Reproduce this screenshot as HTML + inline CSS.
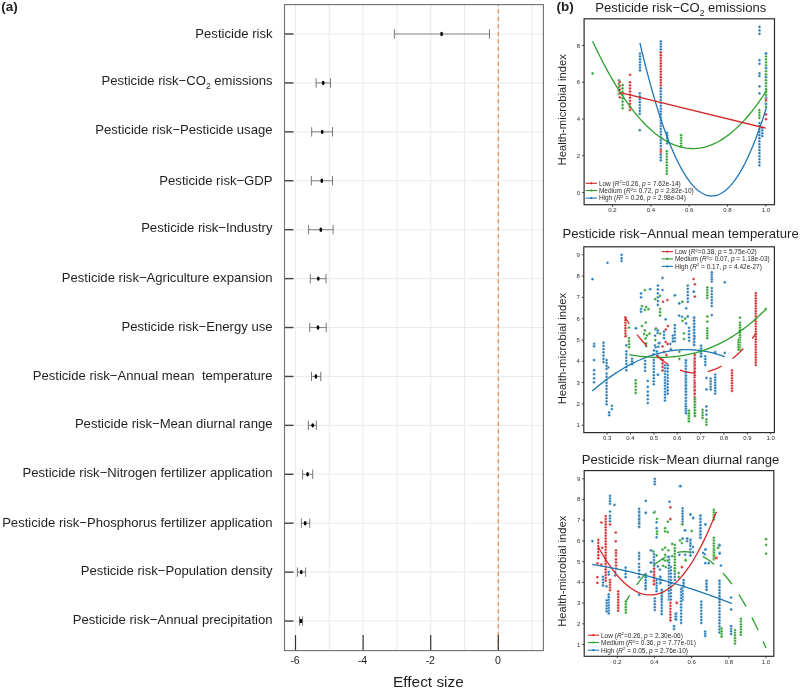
<!DOCTYPE html>
<html><head><meta charset="utf-8"><title>Figure</title>
<style>
html,body{margin:0;padding:0;background:#fff;}
body{width:800px;height:693px;overflow:hidden;}
svg{display:block;font-family:"Liberation Sans", Arial, Helvetica, sans-serif;}
</style></head><body>
<svg width="800" height="693" viewBox="0 0 800 693">
<rect width="800" height="693" fill="#fff"/>
<line x1="295.50" y1="4.6" x2="295.50" y2="650.6" stroke="#ebebeb" stroke-width="1.1"/>
<line x1="329.30" y1="4.6" x2="329.30" y2="650.6" stroke="#ebebeb" stroke-width="1.1"/>
<line x1="363.10" y1="4.6" x2="363.10" y2="650.6" stroke="#ebebeb" stroke-width="1.1"/>
<line x1="396.90" y1="4.6" x2="396.90" y2="650.6" stroke="#ebebeb" stroke-width="1.1"/>
<line x1="430.70" y1="4.6" x2="430.70" y2="650.6" stroke="#ebebeb" stroke-width="1.1"/>
<line x1="464.50" y1="4.6" x2="464.50" y2="650.6" stroke="#ebebeb" stroke-width="1.1"/>
<line x1="498.30" y1="4.6" x2="498.30" y2="650.6" stroke="#ebebeb" stroke-width="1.1"/>
<line x1="532.10" y1="4.6" x2="532.10" y2="650.6" stroke="#ebebeb" stroke-width="1.1"/>
<line x1="284.5" y1="34.00" x2="543.4" y2="34.00" stroke="#ebebeb" stroke-width="1.1"/>
<line x1="284.5" y1="82.92" x2="543.4" y2="82.92" stroke="#ebebeb" stroke-width="1.1"/>
<line x1="284.5" y1="131.84" x2="543.4" y2="131.84" stroke="#ebebeb" stroke-width="1.1"/>
<line x1="284.5" y1="180.76" x2="543.4" y2="180.76" stroke="#ebebeb" stroke-width="1.1"/>
<line x1="284.5" y1="229.68" x2="543.4" y2="229.68" stroke="#ebebeb" stroke-width="1.1"/>
<line x1="284.5" y1="278.60" x2="543.4" y2="278.60" stroke="#ebebeb" stroke-width="1.1"/>
<line x1="284.5" y1="327.52" x2="543.4" y2="327.52" stroke="#ebebeb" stroke-width="1.1"/>
<line x1="284.5" y1="376.44" x2="543.4" y2="376.44" stroke="#ebebeb" stroke-width="1.1"/>
<line x1="284.5" y1="425.36" x2="543.4" y2="425.36" stroke="#ebebeb" stroke-width="1.1"/>
<line x1="284.5" y1="474.28" x2="543.4" y2="474.28" stroke="#ebebeb" stroke-width="1.1"/>
<line x1="284.5" y1="523.20" x2="543.4" y2="523.20" stroke="#ebebeb" stroke-width="1.1"/>
<line x1="284.5" y1="572.12" x2="543.4" y2="572.12" stroke="#ebebeb" stroke-width="1.1"/>
<line x1="284.5" y1="621.04" x2="543.4" y2="621.04" stroke="#ebebeb" stroke-width="1.1"/>
<line x1="498.3" y1="4.6" x2="498.3" y2="650.6" stroke="#ee8236" stroke-width="1.15" stroke-dasharray="4.3 3.2" stroke-dashoffset="2.9"/>
<line x1="394.4" y1="34.00" x2="489.5" y2="34.00" stroke="#8a8a8a" stroke-width="1.1"/>
<line x1="394.4" y1="29.30" x2="394.4" y2="38.70" stroke="#777" stroke-width="1"/>
<line x1="489.5" y1="29.30" x2="489.5" y2="38.70" stroke="#777" stroke-width="1"/>
<ellipse cx="441.6" cy="34.00" rx="1.35" ry="2.2" fill="#000"/>
<line x1="316.1" y1="82.92" x2="330.5" y2="82.92" stroke="#8a8a8a" stroke-width="1.1"/>
<line x1="316.1" y1="78.22" x2="316.1" y2="87.62" stroke="#777" stroke-width="1"/>
<line x1="330.5" y1="78.22" x2="330.5" y2="87.62" stroke="#777" stroke-width="1"/>
<ellipse cx="323.2" cy="82.92" rx="1.35" ry="2.2" fill="#000"/>
<line x1="311.7" y1="131.84" x2="332.5" y2="131.84" stroke="#8a8a8a" stroke-width="1.1"/>
<line x1="311.7" y1="127.14" x2="311.7" y2="136.54" stroke="#777" stroke-width="1"/>
<line x1="332.5" y1="127.14" x2="332.5" y2="136.54" stroke="#777" stroke-width="1"/>
<ellipse cx="322.2" cy="131.84" rx="1.35" ry="2.2" fill="#000"/>
<line x1="311.3" y1="180.76" x2="332.5" y2="180.76" stroke="#8a8a8a" stroke-width="1.1"/>
<line x1="311.3" y1="176.06" x2="311.3" y2="185.46" stroke="#777" stroke-width="1"/>
<line x1="332.5" y1="176.06" x2="332.5" y2="185.46" stroke="#777" stroke-width="1"/>
<ellipse cx="321.8" cy="180.76" rx="1.35" ry="2.2" fill="#000"/>
<line x1="308.6" y1="229.68" x2="333.1" y2="229.68" stroke="#8a8a8a" stroke-width="1.1"/>
<line x1="308.6" y1="224.98" x2="308.6" y2="234.38" stroke="#777" stroke-width="1"/>
<line x1="333.1" y1="224.98" x2="333.1" y2="234.38" stroke="#777" stroke-width="1"/>
<ellipse cx="320.8" cy="229.68" rx="1.35" ry="2.2" fill="#000"/>
<line x1="310.3" y1="278.60" x2="326.0" y2="278.60" stroke="#8a8a8a" stroke-width="1.1"/>
<line x1="310.3" y1="273.90" x2="310.3" y2="283.30" stroke="#777" stroke-width="1"/>
<line x1="326.0" y1="273.90" x2="326.0" y2="283.30" stroke="#777" stroke-width="1"/>
<ellipse cx="318.3" cy="278.60" rx="1.35" ry="2.2" fill="#000"/>
<line x1="309.7" y1="327.52" x2="326.2" y2="327.52" stroke="#8a8a8a" stroke-width="1.1"/>
<line x1="309.7" y1="322.82" x2="309.7" y2="332.22" stroke="#777" stroke-width="1"/>
<line x1="326.2" y1="322.82" x2="326.2" y2="332.22" stroke="#777" stroke-width="1"/>
<ellipse cx="318.0" cy="327.52" rx="1.35" ry="2.2" fill="#000"/>
<line x1="311.5" y1="376.44" x2="320.8" y2="376.44" stroke="#8a8a8a" stroke-width="1.1"/>
<line x1="311.5" y1="371.74" x2="311.5" y2="381.14" stroke="#777" stroke-width="1"/>
<line x1="320.8" y1="371.74" x2="320.8" y2="381.14" stroke="#777" stroke-width="1"/>
<ellipse cx="315.9" cy="376.44" rx="1.35" ry="2.2" fill="#000"/>
<line x1="308.4" y1="425.36" x2="316.3" y2="425.36" stroke="#8a8a8a" stroke-width="1.1"/>
<line x1="308.4" y1="420.66" x2="308.4" y2="430.06" stroke="#777" stroke-width="1"/>
<line x1="316.3" y1="420.66" x2="316.3" y2="430.06" stroke="#777" stroke-width="1"/>
<ellipse cx="312.7" cy="425.36" rx="1.35" ry="2.2" fill="#000"/>
<line x1="302.6" y1="474.28" x2="312.7" y2="474.28" stroke="#8a8a8a" stroke-width="1.1"/>
<line x1="302.6" y1="469.58" x2="302.6" y2="478.98" stroke="#777" stroke-width="1"/>
<line x1="312.7" y1="469.58" x2="312.7" y2="478.98" stroke="#777" stroke-width="1"/>
<ellipse cx="307.6" cy="474.28" rx="1.35" ry="2.2" fill="#000"/>
<line x1="301.4" y1="523.20" x2="309.7" y2="523.20" stroke="#8a8a8a" stroke-width="1.1"/>
<line x1="301.4" y1="518.50" x2="301.4" y2="527.90" stroke="#777" stroke-width="1"/>
<line x1="309.7" y1="518.50" x2="309.7" y2="527.90" stroke="#777" stroke-width="1"/>
<ellipse cx="305.2" cy="523.20" rx="1.35" ry="2.2" fill="#000"/>
<line x1="297.4" y1="572.12" x2="305.6" y2="572.12" stroke="#8a8a8a" stroke-width="1.1"/>
<line x1="297.4" y1="567.42" x2="297.4" y2="576.82" stroke="#777" stroke-width="1"/>
<line x1="305.6" y1="567.42" x2="305.6" y2="576.82" stroke="#777" stroke-width="1"/>
<ellipse cx="301.3" cy="572.12" rx="1.35" ry="2.2" fill="#000"/>
<line x1="299.6" y1="621.04" x2="302.6" y2="621.04" stroke="#8a8a8a" stroke-width="1.1"/>
<line x1="299.6" y1="616.34" x2="299.6" y2="625.74" stroke="#777" stroke-width="1"/>
<line x1="302.6" y1="616.34" x2="302.6" y2="625.74" stroke="#777" stroke-width="1"/>
<ellipse cx="300.9" cy="621.04" rx="1.35" ry="2.2" fill="#000"/>
<line x1="284.5" y1="34.00" x2="293.5" y2="34.00" stroke="#444" stroke-width="1.4"/>
<line x1="284.5" y1="82.92" x2="293.5" y2="82.92" stroke="#444" stroke-width="1.4"/>
<line x1="284.5" y1="131.84" x2="293.5" y2="131.84" stroke="#444" stroke-width="1.4"/>
<line x1="284.5" y1="180.76" x2="293.5" y2="180.76" stroke="#444" stroke-width="1.4"/>
<line x1="284.5" y1="229.68" x2="293.5" y2="229.68" stroke="#444" stroke-width="1.4"/>
<line x1="284.5" y1="278.60" x2="293.5" y2="278.60" stroke="#444" stroke-width="1.4"/>
<line x1="284.5" y1="327.52" x2="293.5" y2="327.52" stroke="#444" stroke-width="1.4"/>
<line x1="284.5" y1="376.44" x2="293.5" y2="376.44" stroke="#444" stroke-width="1.4"/>
<line x1="284.5" y1="425.36" x2="293.5" y2="425.36" stroke="#444" stroke-width="1.4"/>
<line x1="284.5" y1="474.28" x2="293.5" y2="474.28" stroke="#444" stroke-width="1.4"/>
<line x1="284.5" y1="523.20" x2="293.5" y2="523.20" stroke="#444" stroke-width="1.4"/>
<line x1="284.5" y1="572.12" x2="293.5" y2="572.12" stroke="#444" stroke-width="1.4"/>
<line x1="284.5" y1="621.04" x2="293.5" y2="621.04" stroke="#444" stroke-width="1.4"/>
<line x1="295.50" y1="635.1" x2="295.50" y2="650.6" stroke="#333" stroke-width="1.2"/>
<line x1="363.10" y1="635.1" x2="363.10" y2="650.6" stroke="#333" stroke-width="1.2"/>
<line x1="430.70" y1="635.1" x2="430.70" y2="650.6" stroke="#333" stroke-width="1.2"/>
<line x1="498.30" y1="635.1" x2="498.30" y2="650.6" stroke="#333" stroke-width="1.2"/>
<rect x="284.5" y="4.6" width="258.9" height="646.0" fill="none" stroke="#707070" stroke-width="1.1"/>
<text x="294.90" y="663.9" font-size="10.6" text-anchor="middle" fill="#231f20" letter-spacing="-0.3">-6</text>
<text x="362.50" y="663.9" font-size="10.6" text-anchor="middle" fill="#231f20" letter-spacing="-0.3">-4</text>
<text x="430.10" y="663.9" font-size="10.6" text-anchor="middle" fill="#231f20" letter-spacing="-0.3">-2</text>
<text x="497.70" y="663.9" font-size="10.6" text-anchor="middle" fill="#231f20" letter-spacing="-0.3">0</text>
<text x="428.4" y="687.3" font-size="15.4" text-anchor="middle" fill="#231f20">Effect size</text>
<text x="272.5" y="37.75" font-size="13.1" text-anchor="end" fill="#231f20" xml:space="preserve">Pesticide risk</text>
<text x="272.5" y="84.77" font-size="13.1" text-anchor="end" fill="#231f20" xml:space="preserve">Pesticide risk−CO<tspan font-size="8.5" dy="3.8">2</tspan><tspan dy="-3.8"> emissions</tspan></text>
<text x="272.5" y="134.09" font-size="13.1" text-anchor="end" fill="#231f20" xml:space="preserve">Pesticide risk−Pesticide usage</text>
<text x="272.5" y="184.51" font-size="13.1" text-anchor="end" fill="#231f20" xml:space="preserve">Pesticide risk−GDP</text>
<text x="272.5" y="232.18" font-size="13.1" text-anchor="end" fill="#231f20" xml:space="preserve">Pesticide risk−Industry</text>
<text x="272.5" y="281.60" font-size="13.1" text-anchor="end" fill="#231f20" xml:space="preserve">Pesticide risk−Agriculture expansion</text>
<text x="272.5" y="330.62" font-size="13.1" text-anchor="end" fill="#231f20" xml:space="preserve">Pesticide risk−Energy use</text>
<text x="272.5" y="379.54" font-size="13.1" text-anchor="end" fill="#231f20" xml:space="preserve">Pesticide risk−Annual mean  temperature</text>
<text x="272.5" y="428.21" font-size="13.1" text-anchor="end" fill="#231f20" xml:space="preserve">Pesticide risk−Mean diurnal range</text>
<text x="272.5" y="477.28" font-size="13.1" text-anchor="end" fill="#231f20" xml:space="preserve">Pesticide risk−Nitrogen fertilizer application</text>
<text x="272.5" y="526.55" font-size="13.1" text-anchor="end" fill="#231f20" xml:space="preserve">Pesticide risk−Phosphorus fertilizer application</text>
<text x="272.5" y="575.37" font-size="13.1" text-anchor="end" fill="#231f20" xml:space="preserve">Pesticide risk−Population density</text>
<text x="272.5" y="624.29" font-size="13.1" text-anchor="end" fill="#231f20" xml:space="preserve">Pesticide risk−Annual precipitation</text>
<text x="1.3" y="11.4" font-size="13.5" font-weight="bold" fill="#231f20">(a)</text>
<text x="556.4" y="11.1" font-size="13.5" font-weight="bold" fill="#231f20">(b)</text>
<text x="680.8" y="12.0" font-size="13.1" text-anchor="middle" fill="#231f20" xml:space="preserve">Pesticide risk−CO<tspan font-size="8.5" dy="4.2">2</tspan><tspan dy="-4.2"> emissions</tspan></text>
<text transform="translate(566.2,109.8) rotate(-90)" font-size="11.25" text-anchor="middle" fill="#231f20">Health-microbial index</text>
<circle cx="592.6" cy="73.5" r="1.4" fill="#2ca02c" stroke="#fff" stroke-width="0.4"/>
<circle cx="618.8" cy="80.4" r="1.4" fill="#2ca02c" stroke="#fff" stroke-width="0.4"/>
<circle cx="618.8" cy="83.8" r="1.4" fill="#2ca02c" stroke="#fff" stroke-width="0.4"/>
<circle cx="618.8" cy="87.2" r="1.4" fill="#2ca02c" stroke="#fff" stroke-width="0.4"/>
<circle cx="618.8" cy="90.5" r="1.4" fill="#2ca02c" stroke="#fff" stroke-width="0.4"/>
<circle cx="618.8" cy="93.9" r="1.4" fill="#2ca02c" stroke="#fff" stroke-width="0.4"/>
<circle cx="622.6" cy="85.2" r="1.4" fill="#2ca02c" stroke="#fff" stroke-width="0.4"/>
<circle cx="622.6" cy="88.5" r="1.4" fill="#2ca02c" stroke="#fff" stroke-width="0.4"/>
<circle cx="622.6" cy="91.8" r="1.4" fill="#2ca02c" stroke="#fff" stroke-width="0.4"/>
<circle cx="622.6" cy="95.1" r="1.4" fill="#2ca02c" stroke="#fff" stroke-width="0.4"/>
<circle cx="622.6" cy="98.4" r="1.4" fill="#2ca02c" stroke="#fff" stroke-width="0.4"/>
<circle cx="622.6" cy="101.7" r="1.4" fill="#2ca02c" stroke="#fff" stroke-width="0.4"/>
<circle cx="622.6" cy="105.0" r="1.4" fill="#2ca02c" stroke="#fff" stroke-width="0.4"/>
<circle cx="622.6" cy="108.3" r="1.4" fill="#2ca02c" stroke="#fff" stroke-width="0.4"/>
<circle cx="619.8" cy="82.0" r="1.4" fill="#d62728" stroke="#fff" stroke-width="0.4"/>
<circle cx="619.8" cy="85.8" r="1.4" fill="#d62728" stroke="#fff" stroke-width="0.4"/>
<circle cx="619.8" cy="89.7" r="1.4" fill="#d62728" stroke="#fff" stroke-width="0.4"/>
<circle cx="619.8" cy="93.5" r="1.4" fill="#d62728" stroke="#fff" stroke-width="0.4"/>
<circle cx="619.8" cy="97.3" r="1.4" fill="#d62728" stroke="#fff" stroke-width="0.4"/>
<circle cx="630.0" cy="74.8" r="1.4" fill="#d62728" stroke="#fff" stroke-width="0.4"/>
<circle cx="630.0" cy="82.3" r="1.4" fill="#d62728" stroke="#fff" stroke-width="0.4"/>
<circle cx="630.0" cy="85.4" r="1.4" fill="#d62728" stroke="#fff" stroke-width="0.4"/>
<circle cx="630.0" cy="88.5" r="1.4" fill="#d62728" stroke="#fff" stroke-width="0.4"/>
<circle cx="630.0" cy="91.5" r="1.4" fill="#d62728" stroke="#fff" stroke-width="0.4"/>
<circle cx="630.0" cy="94.6" r="1.4" fill="#d62728" stroke="#fff" stroke-width="0.4"/>
<circle cx="630.0" cy="97.7" r="1.4" fill="#d62728" stroke="#fff" stroke-width="0.4"/>
<circle cx="630.0" cy="100.8" r="1.4" fill="#d62728" stroke="#fff" stroke-width="0.4"/>
<circle cx="630.0" cy="103.8" r="1.4" fill="#d62728" stroke="#fff" stroke-width="0.4"/>
<circle cx="630.0" cy="106.9" r="1.4" fill="#d62728" stroke="#fff" stroke-width="0.4"/>
<circle cx="630.0" cy="110.0" r="1.4" fill="#d62728" stroke="#fff" stroke-width="0.4"/>
<circle cx="640.0" cy="53.6" r="1.4" fill="#1f77b4" stroke="#fff" stroke-width="0.4"/>
<circle cx="640.0" cy="56.4" r="1.4" fill="#1f77b4" stroke="#fff" stroke-width="0.4"/>
<circle cx="640.0" cy="59.2" r="1.4" fill="#1f77b4" stroke="#fff" stroke-width="0.4"/>
<circle cx="640.0" cy="62.0" r="1.4" fill="#1f77b4" stroke="#fff" stroke-width="0.4"/>
<circle cx="640.0" cy="64.9" r="1.4" fill="#1f77b4" stroke="#fff" stroke-width="0.4"/>
<circle cx="640.0" cy="67.7" r="1.4" fill="#1f77b4" stroke="#fff" stroke-width="0.4"/>
<circle cx="640.0" cy="70.5" r="1.4" fill="#1f77b4" stroke="#fff" stroke-width="0.4"/>
<circle cx="639.8" cy="93.3" r="1.4" fill="#1f77b4" stroke="#fff" stroke-width="0.4"/>
<circle cx="639.8" cy="96.3" r="1.4" fill="#1f77b4" stroke="#fff" stroke-width="0.4"/>
<circle cx="639.8" cy="99.2" r="1.4" fill="#1f77b4" stroke="#fff" stroke-width="0.4"/>
<circle cx="639.8" cy="102.2" r="1.4" fill="#1f77b4" stroke="#fff" stroke-width="0.4"/>
<circle cx="639.8" cy="105.1" r="1.4" fill="#1f77b4" stroke="#fff" stroke-width="0.4"/>
<circle cx="639.8" cy="108.1" r="1.4" fill="#1f77b4" stroke="#fff" stroke-width="0.4"/>
<circle cx="639.8" cy="111.0" r="1.4" fill="#1f77b4" stroke="#fff" stroke-width="0.4"/>
<circle cx="639.8" cy="114.0" r="1.4" fill="#1f77b4" stroke="#fff" stroke-width="0.4"/>
<circle cx="639.8" cy="130.2" r="1.4" fill="#1f77b4" stroke="#fff" stroke-width="0.4"/>
<circle cx="660.8" cy="41.5" r="1.4" fill="#1f77b4" stroke="#fff" stroke-width="0.4"/>
<circle cx="660.8" cy="44.1" r="1.4" fill="#1f77b4" stroke="#fff" stroke-width="0.4"/>
<circle cx="660.8" cy="46.7" r="1.4" fill="#1f77b4" stroke="#fff" stroke-width="0.4"/>
<circle cx="660.8" cy="49.3" r="1.4" fill="#1f77b4" stroke="#fff" stroke-width="0.4"/>
<circle cx="660.8" cy="51.9" r="1.4" fill="#1f77b4" stroke="#fff" stroke-width="0.4"/>
<circle cx="660.8" cy="52.5" r="1.4" fill="#d62728" stroke="#fff" stroke-width="0.4"/>
<circle cx="660.8" cy="55.2" r="1.4" fill="#d62728" stroke="#fff" stroke-width="0.4"/>
<circle cx="660.8" cy="58.0" r="1.4" fill="#d62728" stroke="#fff" stroke-width="0.4"/>
<circle cx="660.8" cy="60.7" r="1.4" fill="#d62728" stroke="#fff" stroke-width="0.4"/>
<circle cx="660.8" cy="63.5" r="1.4" fill="#d62728" stroke="#fff" stroke-width="0.4"/>
<circle cx="660.8" cy="66.2" r="1.4" fill="#d62728" stroke="#fff" stroke-width="0.4"/>
<circle cx="660.8" cy="69.0" r="1.4" fill="#d62728" stroke="#fff" stroke-width="0.4"/>
<circle cx="660.8" cy="71.7" r="1.4" fill="#d62728" stroke="#fff" stroke-width="0.4"/>
<circle cx="660.8" cy="74.5" r="1.4" fill="#d62728" stroke="#fff" stroke-width="0.4"/>
<circle cx="660.8" cy="77.2" r="1.4" fill="#d62728" stroke="#fff" stroke-width="0.4"/>
<circle cx="660.8" cy="80.0" r="1.4" fill="#d62728" stroke="#fff" stroke-width="0.4"/>
<circle cx="660.8" cy="82.7" r="1.4" fill="#d62728" stroke="#fff" stroke-width="0.4"/>
<circle cx="660.8" cy="85.5" r="1.4" fill="#d62728" stroke="#fff" stroke-width="0.4"/>
<circle cx="660.8" cy="88.2" r="1.4" fill="#d62728" stroke="#fff" stroke-width="0.4"/>
<circle cx="660.8" cy="88.5" r="1.4" fill="#1f77b4" stroke="#fff" stroke-width="0.4"/>
<circle cx="660.8" cy="91.4" r="1.4" fill="#1f77b4" stroke="#fff" stroke-width="0.4"/>
<circle cx="660.8" cy="94.3" r="1.4" fill="#1f77b4" stroke="#fff" stroke-width="0.4"/>
<circle cx="660.8" cy="97.1" r="1.4" fill="#1f77b4" stroke="#fff" stroke-width="0.4"/>
<circle cx="660.8" cy="100.0" r="1.4" fill="#1f77b4" stroke="#fff" stroke-width="0.4"/>
<circle cx="660.8" cy="102.9" r="1.4" fill="#1f77b4" stroke="#fff" stroke-width="0.4"/>
<circle cx="660.8" cy="105.8" r="1.4" fill="#1f77b4" stroke="#fff" stroke-width="0.4"/>
<circle cx="660.8" cy="108.7" r="1.4" fill="#1f77b4" stroke="#fff" stroke-width="0.4"/>
<circle cx="660.8" cy="111.5" r="1.4" fill="#1f77b4" stroke="#fff" stroke-width="0.4"/>
<circle cx="660.8" cy="114.4" r="1.4" fill="#1f77b4" stroke="#fff" stroke-width="0.4"/>
<circle cx="660.8" cy="117.3" r="1.4" fill="#1f77b4" stroke="#fff" stroke-width="0.4"/>
<circle cx="660.8" cy="120.2" r="1.4" fill="#1f77b4" stroke="#fff" stroke-width="0.4"/>
<circle cx="660.8" cy="123.1" r="1.4" fill="#1f77b4" stroke="#fff" stroke-width="0.4"/>
<circle cx="660.8" cy="126.0" r="1.4" fill="#1f77b4" stroke="#fff" stroke-width="0.4"/>
<circle cx="660.8" cy="128.8" r="1.4" fill="#1f77b4" stroke="#fff" stroke-width="0.4"/>
<circle cx="660.8" cy="131.7" r="1.4" fill="#1f77b4" stroke="#fff" stroke-width="0.4"/>
<circle cx="660.8" cy="134.6" r="1.4" fill="#1f77b4" stroke="#fff" stroke-width="0.4"/>
<circle cx="660.8" cy="137.5" r="1.4" fill="#1f77b4" stroke="#fff" stroke-width="0.4"/>
<circle cx="660.8" cy="140.4" r="1.4" fill="#1f77b4" stroke="#fff" stroke-width="0.4"/>
<circle cx="660.8" cy="143.2" r="1.4" fill="#1f77b4" stroke="#fff" stroke-width="0.4"/>
<circle cx="660.8" cy="146.1" r="1.4" fill="#1f77b4" stroke="#fff" stroke-width="0.4"/>
<circle cx="660.8" cy="149.0" r="1.4" fill="#1f77b4" stroke="#fff" stroke-width="0.4"/>
<circle cx="660.8" cy="150.0" r="1.4" fill="#d62728" stroke="#fff" stroke-width="0.4"/>
<circle cx="660.8" cy="152.0" r="1.4" fill="#d62728" stroke="#fff" stroke-width="0.4"/>
<circle cx="660.8" cy="154.0" r="1.4" fill="#d62728" stroke="#fff" stroke-width="0.4"/>
<circle cx="660.8" cy="155.0" r="1.4" fill="#1f77b4" stroke="#fff" stroke-width="0.4"/>
<circle cx="660.8" cy="157.7" r="1.4" fill="#1f77b4" stroke="#fff" stroke-width="0.4"/>
<circle cx="660.8" cy="160.3" r="1.4" fill="#1f77b4" stroke="#fff" stroke-width="0.4"/>
<circle cx="667.2" cy="133.0" r="1.4" fill="#1f77b4" stroke="#fff" stroke-width="0.4"/>
<circle cx="667.2" cy="135.6" r="1.4" fill="#1f77b4" stroke="#fff" stroke-width="0.4"/>
<circle cx="667.2" cy="138.2" r="1.4" fill="#1f77b4" stroke="#fff" stroke-width="0.4"/>
<circle cx="667.2" cy="140.8" r="1.4" fill="#1f77b4" stroke="#fff" stroke-width="0.4"/>
<circle cx="667.2" cy="143.4" r="1.4" fill="#1f77b4" stroke="#fff" stroke-width="0.4"/>
<circle cx="666.8" cy="151.2" r="1.4" fill="#2ca02c" stroke="#fff" stroke-width="0.4"/>
<circle cx="666.8" cy="154.0" r="1.4" fill="#2ca02c" stroke="#fff" stroke-width="0.4"/>
<circle cx="666.8" cy="156.8" r="1.4" fill="#2ca02c" stroke="#fff" stroke-width="0.4"/>
<circle cx="666.8" cy="159.6" r="1.4" fill="#2ca02c" stroke="#fff" stroke-width="0.4"/>
<circle cx="666.8" cy="162.4" r="1.4" fill="#2ca02c" stroke="#fff" stroke-width="0.4"/>
<circle cx="666.8" cy="165.3" r="1.4" fill="#2ca02c" stroke="#fff" stroke-width="0.4"/>
<circle cx="666.8" cy="168.1" r="1.4" fill="#2ca02c" stroke="#fff" stroke-width="0.4"/>
<circle cx="666.8" cy="170.9" r="1.4" fill="#2ca02c" stroke="#fff" stroke-width="0.4"/>
<circle cx="666.8" cy="173.7" r="1.4" fill="#2ca02c" stroke="#fff" stroke-width="0.4"/>
<circle cx="681.1" cy="135.2" r="1.4" fill="#2ca02c" stroke="#fff" stroke-width="0.4"/>
<circle cx="681.1" cy="137.9" r="1.4" fill="#2ca02c" stroke="#fff" stroke-width="0.4"/>
<circle cx="681.1" cy="140.6" r="1.4" fill="#2ca02c" stroke="#fff" stroke-width="0.4"/>
<circle cx="681.1" cy="143.3" r="1.4" fill="#2ca02c" stroke="#fff" stroke-width="0.4"/>
<circle cx="681.1" cy="146.0" r="1.4" fill="#2ca02c" stroke="#fff" stroke-width="0.4"/>
<circle cx="759.5" cy="26.9" r="1.4" fill="#1f77b4" stroke="#fff" stroke-width="0.4"/>
<circle cx="759.5" cy="30.4" r="1.4" fill="#1f77b4" stroke="#fff" stroke-width="0.4"/>
<circle cx="759.5" cy="33.8" r="1.4" fill="#1f77b4" stroke="#fff" stroke-width="0.4"/>
<circle cx="759.5" cy="60.2" r="1.4" fill="#1f77b4" stroke="#fff" stroke-width="0.4"/>
<circle cx="759.5" cy="63.8" r="1.4" fill="#1f77b4" stroke="#fff" stroke-width="0.4"/>
<circle cx="759.5" cy="73.3" r="1.4" fill="#1f77b4" stroke="#fff" stroke-width="0.4"/>
<circle cx="759.5" cy="76.0" r="1.4" fill="#1f77b4" stroke="#fff" stroke-width="0.4"/>
<circle cx="759.5" cy="86.4" r="1.4" fill="#1f77b4" stroke="#fff" stroke-width="0.4"/>
<circle cx="759.5" cy="93.4" r="1.4" fill="#1f77b4" stroke="#fff" stroke-width="0.4"/>
<circle cx="759.4" cy="123.1" r="1.4" fill="#1f77b4" stroke="#fff" stroke-width="0.4"/>
<circle cx="759.4" cy="126.1" r="1.4" fill="#1f77b4" stroke="#fff" stroke-width="0.4"/>
<circle cx="759.4" cy="129.1" r="1.4" fill="#1f77b4" stroke="#fff" stroke-width="0.4"/>
<circle cx="759.4" cy="132.1" r="1.4" fill="#1f77b4" stroke="#fff" stroke-width="0.4"/>
<circle cx="759.4" cy="135.2" r="1.4" fill="#1f77b4" stroke="#fff" stroke-width="0.4"/>
<circle cx="759.4" cy="138.2" r="1.4" fill="#1f77b4" stroke="#fff" stroke-width="0.4"/>
<circle cx="759.4" cy="141.2" r="1.4" fill="#1f77b4" stroke="#fff" stroke-width="0.4"/>
<circle cx="759.4" cy="144.2" r="1.4" fill="#1f77b4" stroke="#fff" stroke-width="0.4"/>
<circle cx="759.4" cy="147.2" r="1.4" fill="#1f77b4" stroke="#fff" stroke-width="0.4"/>
<circle cx="759.4" cy="150.2" r="1.4" fill="#1f77b4" stroke="#fff" stroke-width="0.4"/>
<circle cx="759.4" cy="153.2" r="1.4" fill="#1f77b4" stroke="#fff" stroke-width="0.4"/>
<circle cx="759.4" cy="156.3" r="1.4" fill="#1f77b4" stroke="#fff" stroke-width="0.4"/>
<circle cx="759.4" cy="159.3" r="1.4" fill="#1f77b4" stroke="#fff" stroke-width="0.4"/>
<circle cx="759.4" cy="162.3" r="1.4" fill="#1f77b4" stroke="#fff" stroke-width="0.4"/>
<circle cx="759.4" cy="165.3" r="1.4" fill="#1f77b4" stroke="#fff" stroke-width="0.4"/>
<circle cx="762.2" cy="127.7" r="1.4" fill="#1f77b4" stroke="#fff" stroke-width="0.4"/>
<circle cx="762.2" cy="130.5" r="1.4" fill="#1f77b4" stroke="#fff" stroke-width="0.4"/>
<circle cx="762.2" cy="133.3" r="1.4" fill="#1f77b4" stroke="#fff" stroke-width="0.4"/>
<circle cx="762.2" cy="136.1" r="1.4" fill="#1f77b4" stroke="#fff" stroke-width="0.4"/>
<circle cx="759.4" cy="110.1" r="1.4" fill="#2ca02c" stroke="#fff" stroke-width="0.4"/>
<circle cx="759.4" cy="112.7" r="1.4" fill="#2ca02c" stroke="#fff" stroke-width="0.4"/>
<circle cx="759.4" cy="115.3" r="1.4" fill="#2ca02c" stroke="#fff" stroke-width="0.4"/>
<circle cx="759.4" cy="117.9" r="1.4" fill="#2ca02c" stroke="#fff" stroke-width="0.4"/>
<circle cx="766.0" cy="53.5" r="1.4" fill="#2ca02c" stroke="#fff" stroke-width="0.4"/>
<circle cx="766.0" cy="56.5" r="1.4" fill="#2ca02c" stroke="#fff" stroke-width="0.4"/>
<circle cx="766.0" cy="59.4" r="1.4" fill="#2ca02c" stroke="#fff" stroke-width="0.4"/>
<circle cx="766.0" cy="62.4" r="1.4" fill="#2ca02c" stroke="#fff" stroke-width="0.4"/>
<circle cx="766.0" cy="65.4" r="1.4" fill="#2ca02c" stroke="#fff" stroke-width="0.4"/>
<circle cx="766.0" cy="68.3" r="1.4" fill="#2ca02c" stroke="#fff" stroke-width="0.4"/>
<circle cx="766.0" cy="71.3" r="1.4" fill="#2ca02c" stroke="#fff" stroke-width="0.4"/>
<circle cx="766.0" cy="74.3" r="1.4" fill="#2ca02c" stroke="#fff" stroke-width="0.4"/>
<circle cx="766.0" cy="77.2" r="1.4" fill="#2ca02c" stroke="#fff" stroke-width="0.4"/>
<circle cx="766.0" cy="80.2" r="1.4" fill="#2ca02c" stroke="#fff" stroke-width="0.4"/>
<circle cx="766.0" cy="83.2" r="1.4" fill="#2ca02c" stroke="#fff" stroke-width="0.4"/>
<circle cx="766.0" cy="86.1" r="1.4" fill="#2ca02c" stroke="#fff" stroke-width="0.4"/>
<circle cx="766.0" cy="89.1" r="1.4" fill="#2ca02c" stroke="#fff" stroke-width="0.4"/>
<circle cx="766.0" cy="92.1" r="1.4" fill="#2ca02c" stroke="#fff" stroke-width="0.4"/>
<circle cx="766.0" cy="95.0" r="1.4" fill="#2ca02c" stroke="#fff" stroke-width="0.4"/>
<circle cx="766.0" cy="98.0" r="1.4" fill="#2ca02c" stroke="#fff" stroke-width="0.4"/>
<circle cx="766.0" cy="101.0" r="1.4" fill="#2ca02c" stroke="#fff" stroke-width="0.4"/>
<circle cx="766.0" cy="103.9" r="1.4" fill="#2ca02c" stroke="#fff" stroke-width="0.4"/>
<circle cx="766.0" cy="106.9" r="1.4" fill="#2ca02c" stroke="#fff" stroke-width="0.4"/>
<circle cx="766.0" cy="53.5" r="1.4" fill="#1f77b4" stroke="#fff" stroke-width="0.4"/>
<circle cx="766.0" cy="68.0" r="1.4" fill="#1f77b4" stroke="#fff" stroke-width="0.4"/>
<circle cx="766.0" cy="77.0" r="1.4" fill="#1f77b4" stroke="#fff" stroke-width="0.4"/>
<circle cx="766.0" cy="98.0" r="1.4" fill="#1f77b4" stroke="#fff" stroke-width="0.4"/>
<circle cx="766.0" cy="104.0" r="1.4" fill="#1f77b4" stroke="#fff" stroke-width="0.4"/>
<circle cx="766.0" cy="114.4" r="1.4" fill="#d62728" stroke="#fff" stroke-width="0.4"/>
<circle cx="766.0" cy="119.2" r="1.4" fill="#d62728" stroke="#fff" stroke-width="0.4"/>
<circle cx="766.0" cy="100.0" r="1.4" fill="#d62728" stroke="#fff" stroke-width="0.4"/>
<path d="M592.59,41.28 L594.51,45.34 L596.43,49.33 L598.34,53.23 L600.26,57.06 L602.17,60.81 L604.09,64.49 L606.01,68.08 L607.92,71.59 L609.84,75.03 L611.75,78.39 L613.67,81.67 L615.59,84.87 L617.50,87.99 L619.42,91.04 L621.33,94.00 L623.25,96.89 L625.17,99.70 L627.08,102.43 L629.00,105.08 L630.91,107.65 L632.83,110.15 L634.75,112.57 L636.66,114.90 L638.58,117.16 L640.49,119.35 L642.41,121.45 L644.33,123.47 L646.24,125.42 L648.16,127.29 L650.07,129.07 L651.99,130.79 L653.91,132.42 L655.82,133.97 L657.74,135.45 L659.65,136.84 L661.57,138.16 L663.49,139.40 L665.40,140.56 L667.32,141.64 L669.23,142.65 L671.15,143.57 L673.07,144.42 L674.98,145.19 L676.90,145.88 L678.81,146.49 L680.73,147.03 L682.65,147.48 L684.56,147.86 L686.48,148.16 L688.39,148.38 L690.31,148.52 L692.23,148.58 L694.14,148.56 L696.06,148.47 L697.97,148.30 L699.89,148.05 L701.81,147.72 L703.72,147.31 L705.64,146.82 L707.55,146.26 L709.47,145.61 L711.39,144.89 L713.30,144.09 L715.22,143.21 L717.13,142.26 L719.05,141.22 L720.97,140.11 L722.88,138.91 L724.80,137.64 L726.71,136.29 L728.63,134.87 L730.55,133.36 L732.46,131.77 L734.38,130.11 L736.29,128.37 L738.21,126.55 L740.13,124.65 L742.04,122.67 L743.96,120.62 L745.87,118.48 L747.79,116.27 L749.71,113.98 L751.62,111.61 L753.54,109.16 L755.45,106.63 L757.37,104.03 L759.29,101.35 L761.20,98.58 L763.12,95.74 L765.03,92.83 L766.95,89.83" fill="none" stroke="#2ca02c" stroke-width="1.3"/>
<path d="M639.92,43.02 L640.88,47.07 L641.83,51.07 L642.79,55.01 L643.75,58.90 L644.71,62.74 L645.67,66.52 L646.62,70.24 L647.58,73.91 L648.54,77.53 L649.50,81.09 L650.46,84.60 L651.41,88.05 L652.37,91.45 L653.33,94.80 L654.29,98.09 L655.25,101.33 L656.20,104.51 L657.16,107.63 L658.12,110.71 L659.08,113.73 L660.04,116.69 L660.99,119.60 L661.95,122.46 L662.91,125.26 L663.87,128.00 L664.83,130.70 L665.78,133.33 L666.74,135.92 L667.70,138.45 L668.66,140.92 L669.62,143.34 L670.57,145.71 L671.53,148.02 L672.49,150.28 L673.45,152.48 L674.41,154.63 L675.36,156.72 L676.32,158.76 L677.28,160.75 L678.24,162.68 L679.20,164.55 L680.15,166.38 L681.11,168.14 L682.07,169.86 L683.03,171.52 L683.99,173.12 L684.94,174.67 L685.90,176.17 L686.86,177.61 L687.82,178.99 L688.78,180.33 L689.73,181.61 L690.69,182.83 L691.65,184.00 L692.61,185.11 L693.57,186.17 L694.52,187.18 L695.48,188.13 L696.44,189.03 L697.40,189.87 L698.36,190.66 L699.31,191.40 L700.27,192.08 L701.23,192.70 L702.19,193.27 L703.15,193.79 L704.10,194.25 L705.06,194.66 L706.02,195.01 L706.98,195.31 L707.94,195.56 L708.89,195.75 L709.85,195.88 L710.81,195.96 L711.77,195.99 L712.73,195.96 L713.68,195.88 L714.64,195.75 L715.60,195.56 L716.56,195.31 L717.52,195.01 L718.47,194.66 L719.43,194.25 L720.39,193.79 L721.35,193.27 L722.31,192.70 L723.26,192.08 L724.22,191.40 L725.18,190.66 L726.14,189.87 L727.10,189.03 L728.05,188.13 L729.01,187.18 L729.97,186.17 L730.93,185.11 L731.89,184.00 L732.84,182.83 L733.80,181.61 L734.76,180.33 L735.72,178.99 L736.68,177.61 L737.63,176.17 L738.59,174.67 L739.55,173.12 L740.51,171.52 L741.47,169.86 L742.42,168.14 L743.38,166.38 L744.34,164.55 L745.30,162.68 L746.26,160.75 L747.21,158.76 L748.17,156.72 L749.13,154.63 L750.09,152.48 L751.05,150.28 L752.00,148.02 L752.96,145.71 L753.92,143.34 L754.88,140.92 L755.84,138.45 L756.79,135.92 L757.75,133.33 L758.71,130.70 L759.67,128.00 L760.63,125.26 L761.58,122.46 L762.54,119.60 L763.50,116.69 L764.46,113.73 L765.42,110.71 L766.37,107.63" fill="none" stroke="#1f77b4" stroke-width="1.3"/>
<path d="M620.57,92.54 L765.80,128.19" fill="none" stroke="#d62728" stroke-width="1.3"/>
<line x1="585.7" y1="183.3" x2="597.0" y2="183.3" stroke="#d62728" stroke-width="1.1"/>
<circle cx="591.3000000000001" cy="183.3" r="1.1" fill="#d62728"/>
<text x="598.9000000000001" y="185.60000000000002" font-size="6.5" fill="#2a2a2a" xml:space="preserve">Low (<tspan font-style="italic">R</tspan><tspan font-size="4.2" dy="-2.3">2</tspan><tspan dy="2.3">=0.26, </tspan><tspan font-style="italic">p</tspan> = 7.62e-14)</text>
<line x1="585.7" y1="190.5" x2="597.0" y2="190.5" stroke="#2ca02c" stroke-width="1.1"/>
<circle cx="591.3000000000001" cy="190.5" r="1.1" fill="#2ca02c"/>
<text x="598.9000000000001" y="192.8" font-size="6.5" fill="#2a2a2a" xml:space="preserve">Medium (<tspan font-style="italic">R</tspan><tspan font-size="4.2" dy="-2.3">2</tspan><tspan dy="2.3">= 0.72, </tspan><tspan font-style="italic">p</tspan> = 2.82e-10)</text>
<line x1="585.7" y1="198.1" x2="597.0" y2="198.1" stroke="#1f77b4" stroke-width="1.1"/>
<circle cx="591.3000000000001" cy="198.1" r="1.1" fill="#1f77b4"/>
<text x="598.9000000000001" y="200.4" font-size="6.5" fill="#2a2a2a" xml:space="preserve">High (<tspan font-style="italic">R</tspan><tspan font-size="4.2" dy="-2.3">2</tspan><tspan dy="2.3"> = 0.26, </tspan><tspan font-style="italic">p</tspan> = 2.98e-04)</text>
<line x1="582.1" y1="192.50" x2="584.1" y2="192.50" stroke="#222" stroke-width="0.8"/>
<text x="580.20" y="194.50" font-size="6" text-anchor="end" fill="#2e2e2e">0</text>
<line x1="582.1" y1="155.75" x2="584.1" y2="155.75" stroke="#222" stroke-width="0.8"/>
<text x="580.20" y="157.75" font-size="6" text-anchor="end" fill="#2e2e2e">2</text>
<line x1="582.1" y1="119.00" x2="584.1" y2="119.00" stroke="#222" stroke-width="0.8"/>
<text x="580.20" y="121.00" font-size="6" text-anchor="end" fill="#2e2e2e">4</text>
<line x1="582.1" y1="82.25" x2="584.1" y2="82.25" stroke="#222" stroke-width="0.8"/>
<text x="580.20" y="84.25" font-size="6" text-anchor="end" fill="#2e2e2e">6</text>
<line x1="582.1" y1="45.50" x2="584.1" y2="45.50" stroke="#222" stroke-width="0.8"/>
<text x="580.20" y="47.50" font-size="6" text-anchor="end" fill="#2e2e2e">8</text>
<line x1="612.52" y1="204.7" x2="612.52" y2="206.7" stroke="#222" stroke-width="0.8"/>
<text x="612.52" y="212.40" font-size="6" text-anchor="middle" fill="#2e2e2e">0.2</text>
<line x1="650.84" y1="204.7" x2="650.84" y2="206.7" stroke="#222" stroke-width="0.8"/>
<text x="650.84" y="212.40" font-size="6" text-anchor="middle" fill="#2e2e2e">0.4</text>
<line x1="689.16" y1="204.7" x2="689.16" y2="206.7" stroke="#222" stroke-width="0.8"/>
<text x="689.16" y="212.40" font-size="6" text-anchor="middle" fill="#2e2e2e">0.6</text>
<line x1="727.48" y1="204.7" x2="727.48" y2="206.7" stroke="#222" stroke-width="0.8"/>
<text x="727.48" y="212.40" font-size="6" text-anchor="middle" fill="#2e2e2e">0.8</text>
<line x1="765.80" y1="204.7" x2="765.80" y2="206.7" stroke="#222" stroke-width="0.8"/>
<text x="765.80" y="212.40" font-size="6" text-anchor="middle" fill="#2e2e2e">1.0</text>
<rect x="584.1" y="18.8" width="190.4" height="185.9" fill="none" stroke="#2b2b2b" stroke-width="1.2"/>
<text x="680.6" y="237.6" font-size="13.1" text-anchor="middle" fill="#231f20">Pesticide risk−Annual mean temperature</text>
<text transform="translate(566.2,348.6) rotate(-90)" font-size="11.25" text-anchor="middle" fill="#231f20">Health-microbial index</text>
<circle cx="592.5" cy="279.2" r="1.4" fill="#1f77b4" stroke="#fff" stroke-width="0.4"/>
<circle cx="607.5" cy="262.8" r="1.4" fill="#1f77b4" stroke="#fff" stroke-width="0.4"/>
<circle cx="621.6" cy="254.8" r="1.4" fill="#1f77b4" stroke="#fff" stroke-width="0.4"/>
<circle cx="621.6" cy="258.2" r="1.4" fill="#1f77b4" stroke="#fff" stroke-width="0.4"/>
<circle cx="621.6" cy="261.0" r="1.4" fill="#1f77b4" stroke="#fff" stroke-width="0.4"/>
<circle cx="626.2" cy="335.8" r="1.4" fill="#1f77b4" stroke="#fff" stroke-width="0.4"/>
<circle cx="636.0" cy="328.3" r="1.4" fill="#1f77b4" stroke="#fff" stroke-width="0.4"/>
<circle cx="625.4" cy="317.5" r="1.4" fill="#d62728" stroke="#fff" stroke-width="0.4"/>
<circle cx="625.4" cy="320.2" r="1.4" fill="#d62728" stroke="#fff" stroke-width="0.4"/>
<circle cx="625.4" cy="322.9" r="1.4" fill="#d62728" stroke="#fff" stroke-width="0.4"/>
<circle cx="625.4" cy="325.6" r="1.4" fill="#d62728" stroke="#fff" stroke-width="0.4"/>
<circle cx="625.4" cy="328.2" r="1.4" fill="#d62728" stroke="#fff" stroke-width="0.4"/>
<circle cx="625.4" cy="330.9" r="1.4" fill="#d62728" stroke="#fff" stroke-width="0.4"/>
<circle cx="625.4" cy="333.6" r="1.4" fill="#d62728" stroke="#fff" stroke-width="0.4"/>
<circle cx="625.4" cy="336.3" r="1.4" fill="#d62728" stroke="#fff" stroke-width="0.4"/>
<circle cx="629.0" cy="327.7" r="1.4" fill="#2ca02c" stroke="#fff" stroke-width="0.4"/>
<circle cx="629.0" cy="338.1" r="1.4" fill="#2ca02c" stroke="#fff" stroke-width="0.4"/>
<circle cx="629.0" cy="341.2" r="1.4" fill="#2ca02c" stroke="#fff" stroke-width="0.4"/>
<circle cx="629.0" cy="344.2" r="1.4" fill="#2ca02c" stroke="#fff" stroke-width="0.4"/>
<circle cx="629.0" cy="347.3" r="1.4" fill="#2ca02c" stroke="#fff" stroke-width="0.4"/>
<circle cx="662.5" cy="278.0" r="1.4" fill="#1f77b4" stroke="#fff" stroke-width="0.4"/>
<circle cx="650.1" cy="289.2" r="1.4" fill="#1f77b4" stroke="#fff" stroke-width="0.4"/>
<circle cx="641.0" cy="293.4" r="1.4" fill="#1f77b4" stroke="#fff" stroke-width="0.4"/>
<circle cx="641.0" cy="297.3" r="1.4" fill="#1f77b4" stroke="#fff" stroke-width="0.4"/>
<circle cx="662.5" cy="290.1" r="1.4" fill="#1f77b4" stroke="#fff" stroke-width="0.4"/>
<circle cx="674.8" cy="295.7" r="1.4" fill="#1f77b4" stroke="#fff" stroke-width="0.4"/>
<circle cx="679.1" cy="303.5" r="1.4" fill="#1f77b4" stroke="#fff" stroke-width="0.4"/>
<circle cx="686.2" cy="308.3" r="1.4" fill="#1f77b4" stroke="#fff" stroke-width="0.4"/>
<circle cx="693.9" cy="291.8" r="1.4" fill="#1f77b4" stroke="#fff" stroke-width="0.4"/>
<circle cx="641.0" cy="309.0" r="1.4" fill="#1f77b4" stroke="#fff" stroke-width="0.4"/>
<circle cx="641.0" cy="311.8" r="1.4" fill="#1f77b4" stroke="#fff" stroke-width="0.4"/>
<circle cx="665.7" cy="319.4" r="1.4" fill="#1f77b4" stroke="#fff" stroke-width="0.4"/>
<circle cx="679.1" cy="315.7" r="1.4" fill="#1f77b4" stroke="#fff" stroke-width="0.4"/>
<circle cx="682.0" cy="316.8" r="1.4" fill="#1f77b4" stroke="#fff" stroke-width="0.4"/>
<circle cx="687.8" cy="316.5" r="1.4" fill="#1f77b4" stroke="#fff" stroke-width="0.4"/>
<circle cx="686.1" cy="323.5" r="1.4" fill="#1f77b4" stroke="#fff" stroke-width="0.4"/>
<circle cx="635.8" cy="328.2" r="1.4" fill="#1f77b4" stroke="#fff" stroke-width="0.4"/>
<circle cx="654.0" cy="350.5" r="1.4" fill="#1f77b4" stroke="#fff" stroke-width="0.4"/>
<circle cx="670.3" cy="344.0" r="1.4" fill="#1f77b4" stroke="#fff" stroke-width="0.4"/>
<circle cx="670.9" cy="349.2" r="1.4" fill="#1f77b4" stroke="#fff" stroke-width="0.4"/>
<circle cx="715.1" cy="351.8" r="1.4" fill="#1f77b4" stroke="#fff" stroke-width="0.4"/>
<circle cx="657.9" cy="285.6" r="1.4" fill="#1f77b4" stroke="#fff" stroke-width="0.4"/>
<circle cx="657.9" cy="289.5" r="1.4" fill="#1f77b4" stroke="#fff" stroke-width="0.4"/>
<circle cx="657.9" cy="293.4" r="1.4" fill="#1f77b4" stroke="#fff" stroke-width="0.4"/>
<circle cx="657.9" cy="297.2" r="1.4" fill="#1f77b4" stroke="#fff" stroke-width="0.4"/>
<circle cx="657.9" cy="301.1" r="1.4" fill="#1f77b4" stroke="#fff" stroke-width="0.4"/>
<circle cx="657.9" cy="305.0" r="1.4" fill="#1f77b4" stroke="#fff" stroke-width="0.4"/>
<circle cx="687.8" cy="285.6" r="1.4" fill="#1f77b4" stroke="#fff" stroke-width="0.4"/>
<circle cx="687.8" cy="288.8" r="1.4" fill="#1f77b4" stroke="#fff" stroke-width="0.4"/>
<circle cx="687.8" cy="292.1" r="1.4" fill="#1f77b4" stroke="#fff" stroke-width="0.4"/>
<circle cx="687.8" cy="295.3" r="1.4" fill="#1f77b4" stroke="#fff" stroke-width="0.4"/>
<circle cx="687.8" cy="298.6" r="1.4" fill="#1f77b4" stroke="#fff" stroke-width="0.4"/>
<circle cx="687.8" cy="301.8" r="1.4" fill="#1f77b4" stroke="#fff" stroke-width="0.4"/>
<circle cx="674.8" cy="325.2" r="1.4" fill="#1f77b4" stroke="#fff" stroke-width="0.4"/>
<circle cx="674.8" cy="328.4" r="1.4" fill="#1f77b4" stroke="#fff" stroke-width="0.4"/>
<circle cx="674.8" cy="331.7" r="1.4" fill="#1f77b4" stroke="#fff" stroke-width="0.4"/>
<circle cx="674.8" cy="334.9" r="1.4" fill="#1f77b4" stroke="#fff" stroke-width="0.4"/>
<circle cx="674.8" cy="338.2" r="1.4" fill="#1f77b4" stroke="#fff" stroke-width="0.4"/>
<circle cx="674.8" cy="341.4" r="1.4" fill="#1f77b4" stroke="#fff" stroke-width="0.4"/>
<circle cx="689.1" cy="327.8" r="1.4" fill="#1f77b4" stroke="#fff" stroke-width="0.4"/>
<circle cx="689.1" cy="331.1" r="1.4" fill="#1f77b4" stroke="#fff" stroke-width="0.4"/>
<circle cx="689.1" cy="334.3" r="1.4" fill="#1f77b4" stroke="#fff" stroke-width="0.4"/>
<circle cx="689.1" cy="337.6" r="1.4" fill="#1f77b4" stroke="#fff" stroke-width="0.4"/>
<circle cx="689.1" cy="340.8" r="1.4" fill="#1f77b4" stroke="#fff" stroke-width="0.4"/>
<circle cx="693.9" cy="318.0" r="1.4" fill="#1f77b4" stroke="#fff" stroke-width="0.4"/>
<circle cx="693.9" cy="321.0" r="1.4" fill="#1f77b4" stroke="#fff" stroke-width="0.4"/>
<circle cx="693.9" cy="323.9" r="1.4" fill="#1f77b4" stroke="#fff" stroke-width="0.4"/>
<circle cx="693.9" cy="326.9" r="1.4" fill="#1f77b4" stroke="#fff" stroke-width="0.4"/>
<circle cx="693.9" cy="329.9" r="1.4" fill="#1f77b4" stroke="#fff" stroke-width="0.4"/>
<circle cx="693.9" cy="332.8" r="1.4" fill="#1f77b4" stroke="#fff" stroke-width="0.4"/>
<circle cx="693.9" cy="335.8" r="1.4" fill="#1f77b4" stroke="#fff" stroke-width="0.4"/>
<circle cx="693.9" cy="338.8" r="1.4" fill="#1f77b4" stroke="#fff" stroke-width="0.4"/>
<circle cx="693.9" cy="341.7" r="1.4" fill="#1f77b4" stroke="#fff" stroke-width="0.4"/>
<circle cx="693.9" cy="344.7" r="1.4" fill="#1f77b4" stroke="#fff" stroke-width="0.4"/>
<circle cx="664.0" cy="331.7" r="1.4" fill="#1f77b4" stroke="#fff" stroke-width="0.4"/>
<circle cx="664.0" cy="334.9" r="1.4" fill="#1f77b4" stroke="#fff" stroke-width="0.4"/>
<circle cx="664.0" cy="338.2" r="1.4" fill="#1f77b4" stroke="#fff" stroke-width="0.4"/>
<circle cx="672.9" cy="335.6" r="1.4" fill="#1f77b4" stroke="#fff" stroke-width="0.4"/>
<circle cx="672.9" cy="338.5" r="1.4" fill="#1f77b4" stroke="#fff" stroke-width="0.4"/>
<circle cx="672.9" cy="341.4" r="1.4" fill="#1f77b4" stroke="#fff" stroke-width="0.4"/>
<circle cx="700.8" cy="346.0" r="1.4" fill="#1f77b4" stroke="#fff" stroke-width="0.4"/>
<circle cx="700.8" cy="349.5" r="1.4" fill="#1f77b4" stroke="#fff" stroke-width="0.4"/>
<circle cx="700.8" cy="352.9" r="1.4" fill="#1f77b4" stroke="#fff" stroke-width="0.4"/>
<circle cx="700.8" cy="356.4" r="1.4" fill="#1f77b4" stroke="#fff" stroke-width="0.4"/>
<circle cx="654.9" cy="345.4" r="1.4" fill="#1f77b4" stroke="#fff" stroke-width="0.4"/>
<circle cx="655.8" cy="347.2" r="1.4" fill="#1f77b4" stroke="#fff" stroke-width="0.4"/>
<circle cx="657.5" cy="330.4" r="1.4" fill="#1f77b4" stroke="#fff" stroke-width="0.4"/>
<circle cx="653.5" cy="354.5" r="1.4" fill="#1f77b4" stroke="#fff" stroke-width="0.4"/>
<circle cx="655.1" cy="335.7" r="1.4" fill="#1f77b4" stroke="#fff" stroke-width="0.4"/>
<circle cx="659.9" cy="343.1" r="1.4" fill="#1f77b4" stroke="#fff" stroke-width="0.4"/>
<circle cx="658.8" cy="343.3" r="1.4" fill="#1f77b4" stroke="#fff" stroke-width="0.4"/>
<circle cx="657.6" cy="333.1" r="1.4" fill="#1f77b4" stroke="#fff" stroke-width="0.4"/>
<circle cx="657.5" cy="355.5" r="1.4" fill="#1f77b4" stroke="#fff" stroke-width="0.4"/>
<circle cx="656.8" cy="351.5" r="1.4" fill="#1f77b4" stroke="#fff" stroke-width="0.4"/>
<circle cx="657.8" cy="330.4" r="1.4" fill="#1f77b4" stroke="#fff" stroke-width="0.4"/>
<circle cx="658.3" cy="346.8" r="1.4" fill="#1f77b4" stroke="#fff" stroke-width="0.4"/>
<circle cx="655.4" cy="329.4" r="1.4" fill="#1f77b4" stroke="#fff" stroke-width="0.4"/>
<circle cx="659.0" cy="343.1" r="1.4" fill="#1f77b4" stroke="#fff" stroke-width="0.4"/>
<circle cx="658.1" cy="355.8" r="1.4" fill="#1f77b4" stroke="#fff" stroke-width="0.4"/>
<circle cx="658.0" cy="357.1" r="1.4" fill="#1f77b4" stroke="#fff" stroke-width="0.4"/>
<circle cx="644.9" cy="290.1" r="1.4" fill="#2ca02c" stroke="#fff" stroke-width="0.4"/>
<circle cx="660.1" cy="296.0" r="1.4" fill="#2ca02c" stroke="#fff" stroke-width="0.4"/>
<circle cx="655.3" cy="299.2" r="1.4" fill="#2ca02c" stroke="#fff" stroke-width="0.4"/>
<circle cx="642.0" cy="306.1" r="1.4" fill="#2ca02c" stroke="#fff" stroke-width="0.4"/>
<circle cx="646.2" cy="307.0" r="1.4" fill="#2ca02c" stroke="#fff" stroke-width="0.4"/>
<circle cx="644.9" cy="310.0" r="1.4" fill="#2ca02c" stroke="#fff" stroke-width="0.4"/>
<circle cx="648.4" cy="309.2" r="1.4" fill="#2ca02c" stroke="#fff" stroke-width="0.4"/>
<circle cx="682.6" cy="301.8" r="1.4" fill="#2ca02c" stroke="#fff" stroke-width="0.4"/>
<circle cx="645.8" cy="322.6" r="1.4" fill="#2ca02c" stroke="#fff" stroke-width="0.4"/>
<circle cx="642.0" cy="326.1" r="1.4" fill="#2ca02c" stroke="#fff" stroke-width="0.4"/>
<circle cx="644.9" cy="330.4" r="1.4" fill="#2ca02c" stroke="#fff" stroke-width="0.4"/>
<circle cx="685.2" cy="318.7" r="1.4" fill="#2ca02c" stroke="#fff" stroke-width="0.4"/>
<circle cx="682.6" cy="320.9" r="1.4" fill="#2ca02c" stroke="#fff" stroke-width="0.4"/>
<circle cx="644.0" cy="334.0" r="1.4" fill="#2ca02c" stroke="#fff" stroke-width="0.4"/>
<circle cx="647.0" cy="335.5" r="1.4" fill="#2ca02c" stroke="#fff" stroke-width="0.4"/>
<circle cx="649.5" cy="333.6" r="1.4" fill="#2ca02c" stroke="#fff" stroke-width="0.4"/>
<circle cx="645.5" cy="338.5" r="1.4" fill="#2ca02c" stroke="#fff" stroke-width="0.4"/>
<circle cx="656.0" cy="328.4" r="1.4" fill="#2ca02c" stroke="#fff" stroke-width="0.4"/>
<circle cx="660.1" cy="333.6" r="1.4" fill="#2ca02c" stroke="#fff" stroke-width="0.4"/>
<circle cx="655.3" cy="340.1" r="1.4" fill="#2ca02c" stroke="#fff" stroke-width="0.4"/>
<circle cx="683.9" cy="333.4" r="1.4" fill="#2ca02c" stroke="#fff" stroke-width="0.4"/>
<circle cx="683.9" cy="339.1" r="1.4" fill="#2ca02c" stroke="#fff" stroke-width="0.4"/>
<circle cx="646.2" cy="346.0" r="1.4" fill="#2ca02c" stroke="#fff" stroke-width="0.4"/>
<circle cx="679.4" cy="351.8" r="1.4" fill="#2ca02c" stroke="#fff" stroke-width="0.4"/>
<circle cx="679.4" cy="359.0" r="1.4" fill="#2ca02c" stroke="#fff" stroke-width="0.4"/>
<circle cx="660.1" cy="309.0" r="1.4" fill="#2ca02c" stroke="#fff" stroke-width="0.4"/>
<circle cx="660.1" cy="312.2" r="1.4" fill="#2ca02c" stroke="#fff" stroke-width="0.4"/>
<circle cx="660.1" cy="315.5" r="1.4" fill="#2ca02c" stroke="#fff" stroke-width="0.4"/>
<circle cx="707.3" cy="287.5" r="1.4" fill="#2ca02c" stroke="#fff" stroke-width="0.4"/>
<circle cx="707.3" cy="290.1" r="1.4" fill="#2ca02c" stroke="#fff" stroke-width="0.4"/>
<circle cx="707.3" cy="292.7" r="1.4" fill="#2ca02c" stroke="#fff" stroke-width="0.4"/>
<circle cx="707.3" cy="295.3" r="1.4" fill="#2ca02c" stroke="#fff" stroke-width="0.4"/>
<circle cx="707.3" cy="297.9" r="1.4" fill="#2ca02c" stroke="#fff" stroke-width="0.4"/>
<circle cx="707.3" cy="316.5" r="1.4" fill="#2ca02c" stroke="#fff" stroke-width="0.4"/>
<circle cx="707.3" cy="321.7" r="1.4" fill="#2ca02c" stroke="#fff" stroke-width="0.4"/>
<circle cx="707.3" cy="328.4" r="1.4" fill="#2ca02c" stroke="#fff" stroke-width="0.4"/>
<circle cx="707.3" cy="330.8" r="1.4" fill="#2ca02c" stroke="#fff" stroke-width="0.4"/>
<circle cx="707.3" cy="333.3" r="1.4" fill="#2ca02c" stroke="#fff" stroke-width="0.4"/>
<circle cx="707.3" cy="335.8" r="1.4" fill="#2ca02c" stroke="#fff" stroke-width="0.4"/>
<circle cx="707.3" cy="338.2" r="1.4" fill="#2ca02c" stroke="#fff" stroke-width="0.4"/>
<circle cx="693.6" cy="279.1" r="1.4" fill="#d62728" stroke="#fff" stroke-width="0.4"/>
<circle cx="694.9" cy="284.3" r="1.4" fill="#d62728" stroke="#fff" stroke-width="0.4"/>
<circle cx="694.9" cy="296.6" r="1.4" fill="#d62728" stroke="#fff" stroke-width="0.4"/>
<circle cx="663.1" cy="301.8" r="1.4" fill="#d62728" stroke="#fff" stroke-width="0.4"/>
<circle cx="667.4" cy="300.1" r="1.4" fill="#d62728" stroke="#fff" stroke-width="0.4"/>
<circle cx="667.9" cy="326.1" r="1.4" fill="#d62728" stroke="#fff" stroke-width="0.4"/>
<circle cx="665.7" cy="329.7" r="1.4" fill="#d62728" stroke="#fff" stroke-width="0.4"/>
<circle cx="665.7" cy="342.1" r="1.4" fill="#d62728" stroke="#fff" stroke-width="0.4"/>
<circle cx="667.7" cy="344.0" r="1.4" fill="#d62728" stroke="#fff" stroke-width="0.4"/>
<circle cx="662.5" cy="346.4" r="1.4" fill="#d62728" stroke="#fff" stroke-width="0.4"/>
<circle cx="694.7" cy="336.9" r="1.4" fill="#d62728" stroke="#fff" stroke-width="0.4"/>
<circle cx="694.7" cy="355.7" r="1.4" fill="#d62728" stroke="#fff" stroke-width="0.4"/>
<circle cx="661.2" cy="359.0" r="1.4" fill="#d62728" stroke="#fff" stroke-width="0.4"/>
<circle cx="664.0" cy="352.0" r="1.4" fill="#d62728" stroke="#fff" stroke-width="0.4"/>
<circle cx="666.5" cy="355.0" r="1.4" fill="#d62728" stroke="#fff" stroke-width="0.4"/>
<circle cx="594.1" cy="344.0" r="1.4" fill="#1f77b4" stroke="#fff" stroke-width="0.4"/>
<circle cx="594.1" cy="346.3" r="1.4" fill="#1f77b4" stroke="#fff" stroke-width="0.4"/>
<circle cx="594.1" cy="360.1" r="1.4" fill="#1f77b4" stroke="#fff" stroke-width="0.4"/>
<circle cx="608.2" cy="367.5" r="1.4" fill="#1f77b4" stroke="#fff" stroke-width="0.4"/>
<circle cx="626.3" cy="345.4" r="1.4" fill="#1f77b4" stroke="#fff" stroke-width="0.4"/>
<circle cx="657.8" cy="374.6" r="1.4" fill="#1f77b4" stroke="#fff" stroke-width="0.4"/>
<circle cx="594.1" cy="370.2" r="1.4" fill="#1f77b4" stroke="#fff" stroke-width="0.4"/>
<circle cx="594.1" cy="374.2" r="1.4" fill="#1f77b4" stroke="#fff" stroke-width="0.4"/>
<circle cx="594.1" cy="378.3" r="1.4" fill="#1f77b4" stroke="#fff" stroke-width="0.4"/>
<circle cx="594.1" cy="382.3" r="1.4" fill="#1f77b4" stroke="#fff" stroke-width="0.4"/>
<circle cx="603.5" cy="342.7" r="1.4" fill="#1f77b4" stroke="#fff" stroke-width="0.4"/>
<circle cx="603.5" cy="345.9" r="1.4" fill="#1f77b4" stroke="#fff" stroke-width="0.4"/>
<circle cx="603.5" cy="349.2" r="1.4" fill="#1f77b4" stroke="#fff" stroke-width="0.4"/>
<circle cx="603.5" cy="352.4" r="1.4" fill="#1f77b4" stroke="#fff" stroke-width="0.4"/>
<circle cx="603.5" cy="355.6" r="1.4" fill="#1f77b4" stroke="#fff" stroke-width="0.4"/>
<circle cx="603.5" cy="358.9" r="1.4" fill="#1f77b4" stroke="#fff" stroke-width="0.4"/>
<circle cx="603.5" cy="362.1" r="1.4" fill="#1f77b4" stroke="#fff" stroke-width="0.4"/>
<circle cx="606.6" cy="360.1" r="1.4" fill="#1f77b4" stroke="#fff" stroke-width="0.4"/>
<circle cx="606.6" cy="363.0" r="1.4" fill="#1f77b4" stroke="#fff" stroke-width="0.4"/>
<circle cx="606.6" cy="366.0" r="1.4" fill="#1f77b4" stroke="#fff" stroke-width="0.4"/>
<circle cx="606.6" cy="368.9" r="1.4" fill="#1f77b4" stroke="#fff" stroke-width="0.4"/>
<circle cx="606.6" cy="373.6" r="1.4" fill="#1f77b4" stroke="#fff" stroke-width="0.4"/>
<circle cx="606.6" cy="376.7" r="1.4" fill="#1f77b4" stroke="#fff" stroke-width="0.4"/>
<circle cx="606.6" cy="379.8" r="1.4" fill="#1f77b4" stroke="#fff" stroke-width="0.4"/>
<circle cx="606.6" cy="382.8" r="1.4" fill="#1f77b4" stroke="#fff" stroke-width="0.4"/>
<circle cx="606.6" cy="385.9" r="1.4" fill="#1f77b4" stroke="#fff" stroke-width="0.4"/>
<circle cx="606.6" cy="389.0" r="1.4" fill="#1f77b4" stroke="#fff" stroke-width="0.4"/>
<circle cx="606.6" cy="392.1" r="1.4" fill="#1f77b4" stroke="#fff" stroke-width="0.4"/>
<circle cx="606.6" cy="395.2" r="1.4" fill="#1f77b4" stroke="#fff" stroke-width="0.4"/>
<circle cx="606.6" cy="398.2" r="1.4" fill="#1f77b4" stroke="#fff" stroke-width="0.4"/>
<circle cx="606.6" cy="401.3" r="1.4" fill="#1f77b4" stroke="#fff" stroke-width="0.4"/>
<circle cx="606.6" cy="404.4" r="1.4" fill="#1f77b4" stroke="#fff" stroke-width="0.4"/>
<circle cx="611.9" cy="405.8" r="1.4" fill="#1f77b4" stroke="#fff" stroke-width="0.4"/>
<circle cx="611.9" cy="409.1" r="1.4" fill="#1f77b4" stroke="#fff" stroke-width="0.4"/>
<circle cx="609.2" cy="412.5" r="1.4" fill="#1f77b4" stroke="#fff" stroke-width="0.4"/>
<circle cx="609.2" cy="415.2" r="1.4" fill="#1f77b4" stroke="#fff" stroke-width="0.4"/>
<circle cx="626.3" cy="351.4" r="1.4" fill="#1f77b4" stroke="#fff" stroke-width="0.4"/>
<circle cx="626.3" cy="354.5" r="1.4" fill="#1f77b4" stroke="#fff" stroke-width="0.4"/>
<circle cx="626.3" cy="357.7" r="1.4" fill="#1f77b4" stroke="#fff" stroke-width="0.4"/>
<circle cx="626.3" cy="360.8" r="1.4" fill="#1f77b4" stroke="#fff" stroke-width="0.4"/>
<circle cx="626.3" cy="363.9" r="1.4" fill="#1f77b4" stroke="#fff" stroke-width="0.4"/>
<circle cx="626.3" cy="367.1" r="1.4" fill="#1f77b4" stroke="#fff" stroke-width="0.4"/>
<circle cx="626.3" cy="370.2" r="1.4" fill="#1f77b4" stroke="#fff" stroke-width="0.4"/>
<circle cx="632.0" cy="358.8" r="1.4" fill="#1f77b4" stroke="#fff" stroke-width="0.4"/>
<circle cx="632.0" cy="361.5" r="1.4" fill="#1f77b4" stroke="#fff" stroke-width="0.4"/>
<circle cx="632.0" cy="364.2" r="1.4" fill="#1f77b4" stroke="#fff" stroke-width="0.4"/>
<circle cx="635.7" cy="380.3" r="1.4" fill="#2ca02c" stroke="#fff" stroke-width="0.4"/>
<circle cx="635.7" cy="383.5" r="1.4" fill="#2ca02c" stroke="#fff" stroke-width="0.4"/>
<circle cx="635.7" cy="386.6" r="1.4" fill="#2ca02c" stroke="#fff" stroke-width="0.4"/>
<circle cx="635.7" cy="389.8" r="1.4" fill="#2ca02c" stroke="#fff" stroke-width="0.4"/>
<circle cx="635.7" cy="393.0" r="1.4" fill="#2ca02c" stroke="#fff" stroke-width="0.4"/>
<circle cx="645.1" cy="360.8" r="1.4" fill="#1f77b4" stroke="#fff" stroke-width="0.4"/>
<circle cx="645.1" cy="364.2" r="1.4" fill="#1f77b4" stroke="#fff" stroke-width="0.4"/>
<circle cx="645.1" cy="367.5" r="1.4" fill="#1f77b4" stroke="#fff" stroke-width="0.4"/>
<circle cx="645.1" cy="370.9" r="1.4" fill="#1f77b4" stroke="#fff" stroke-width="0.4"/>
<circle cx="647.8" cy="380.9" r="1.4" fill="#1f77b4" stroke="#fff" stroke-width="0.4"/>
<circle cx="647.8" cy="387.0" r="1.4" fill="#1f77b4" stroke="#fff" stroke-width="0.4"/>
<circle cx="647.8" cy="391.7" r="1.4" fill="#1f77b4" stroke="#fff" stroke-width="0.4"/>
<circle cx="647.8" cy="395.5" r="1.4" fill="#1f77b4" stroke="#fff" stroke-width="0.4"/>
<circle cx="647.8" cy="399.3" r="1.4" fill="#1f77b4" stroke="#fff" stroke-width="0.4"/>
<circle cx="647.8" cy="403.1" r="1.4" fill="#1f77b4" stroke="#fff" stroke-width="0.4"/>
<circle cx="653.8" cy="360.0" r="1.4" fill="#1f77b4" stroke="#fff" stroke-width="0.4"/>
<circle cx="653.8" cy="363.0" r="1.4" fill="#1f77b4" stroke="#fff" stroke-width="0.4"/>
<circle cx="653.8" cy="366.1" r="1.4" fill="#1f77b4" stroke="#fff" stroke-width="0.4"/>
<circle cx="653.8" cy="369.1" r="1.4" fill="#1f77b4" stroke="#fff" stroke-width="0.4"/>
<circle cx="653.8" cy="372.1" r="1.4" fill="#1f77b4" stroke="#fff" stroke-width="0.4"/>
<circle cx="653.8" cy="375.2" r="1.4" fill="#1f77b4" stroke="#fff" stroke-width="0.4"/>
<circle cx="653.8" cy="378.2" r="1.4" fill="#1f77b4" stroke="#fff" stroke-width="0.4"/>
<circle cx="653.8" cy="381.3" r="1.4" fill="#1f77b4" stroke="#fff" stroke-width="0.4"/>
<circle cx="653.8" cy="384.3" r="1.4" fill="#1f77b4" stroke="#fff" stroke-width="0.4"/>
<circle cx="646.0" cy="343.4" r="1.4" fill="#2ca02c" stroke="#fff" stroke-width="0.4"/>
<circle cx="658.0" cy="374.8" r="1.4" fill="#1f77b4" stroke="#fff" stroke-width="0.4"/>
<circle cx="665.0" cy="365.3" r="1.4" fill="#1f77b4" stroke="#fff" stroke-width="0.4"/>
<circle cx="665.0" cy="368.2" r="1.4" fill="#1f77b4" stroke="#fff" stroke-width="0.4"/>
<circle cx="665.0" cy="371.2" r="1.4" fill="#1f77b4" stroke="#fff" stroke-width="0.4"/>
<circle cx="665.0" cy="374.1" r="1.4" fill="#1f77b4" stroke="#fff" stroke-width="0.4"/>
<circle cx="665.0" cy="377.1" r="1.4" fill="#1f77b4" stroke="#fff" stroke-width="0.4"/>
<circle cx="665.0" cy="380.0" r="1.4" fill="#1f77b4" stroke="#fff" stroke-width="0.4"/>
<circle cx="665.0" cy="383.0" r="1.4" fill="#1f77b4" stroke="#fff" stroke-width="0.4"/>
<circle cx="665.0" cy="385.9" r="1.4" fill="#1f77b4" stroke="#fff" stroke-width="0.4"/>
<circle cx="665.0" cy="388.8" r="1.4" fill="#1f77b4" stroke="#fff" stroke-width="0.4"/>
<circle cx="665.0" cy="391.8" r="1.4" fill="#1f77b4" stroke="#fff" stroke-width="0.4"/>
<circle cx="665.0" cy="394.7" r="1.4" fill="#1f77b4" stroke="#fff" stroke-width="0.4"/>
<circle cx="665.0" cy="397.7" r="1.4" fill="#1f77b4" stroke="#fff" stroke-width="0.4"/>
<circle cx="665.0" cy="400.6" r="1.4" fill="#1f77b4" stroke="#fff" stroke-width="0.4"/>
<circle cx="667.7" cy="365.3" r="1.4" fill="#1f77b4" stroke="#fff" stroke-width="0.4"/>
<circle cx="667.7" cy="368.5" r="1.4" fill="#1f77b4" stroke="#fff" stroke-width="0.4"/>
<circle cx="667.7" cy="371.6" r="1.4" fill="#1f77b4" stroke="#fff" stroke-width="0.4"/>
<circle cx="667.7" cy="374.8" r="1.4" fill="#1f77b4" stroke="#fff" stroke-width="0.4"/>
<circle cx="667.7" cy="377.9" r="1.4" fill="#1f77b4" stroke="#fff" stroke-width="0.4"/>
<circle cx="667.7" cy="381.1" r="1.4" fill="#1f77b4" stroke="#fff" stroke-width="0.4"/>
<circle cx="667.7" cy="384.2" r="1.4" fill="#1f77b4" stroke="#fff" stroke-width="0.4"/>
<circle cx="667.7" cy="387.4" r="1.4" fill="#1f77b4" stroke="#fff" stroke-width="0.4"/>
<circle cx="667.7" cy="390.5" r="1.4" fill="#1f77b4" stroke="#fff" stroke-width="0.4"/>
<circle cx="667.7" cy="393.7" r="1.4" fill="#1f77b4" stroke="#fff" stroke-width="0.4"/>
<circle cx="662.6" cy="360.0" r="1.4" fill="#d62728" stroke="#fff" stroke-width="0.4"/>
<circle cx="662.6" cy="363.5" r="1.4" fill="#d62728" stroke="#fff" stroke-width="0.4"/>
<circle cx="662.6" cy="367.0" r="1.4" fill="#d62728" stroke="#fff" stroke-width="0.4"/>
<circle cx="662.6" cy="370.5" r="1.4" fill="#d62728" stroke="#fff" stroke-width="0.4"/>
<circle cx="685.8" cy="360.0" r="1.4" fill="#1f77b4" stroke="#fff" stroke-width="0.4"/>
<circle cx="685.8" cy="362.9" r="1.4" fill="#1f77b4" stroke="#fff" stroke-width="0.4"/>
<circle cx="685.8" cy="365.9" r="1.4" fill="#1f77b4" stroke="#fff" stroke-width="0.4"/>
<circle cx="685.8" cy="368.8" r="1.4" fill="#1f77b4" stroke="#fff" stroke-width="0.4"/>
<circle cx="685.8" cy="371.7" r="1.4" fill="#1f77b4" stroke="#fff" stroke-width="0.4"/>
<circle cx="685.8" cy="374.6" r="1.4" fill="#1f77b4" stroke="#fff" stroke-width="0.4"/>
<circle cx="685.8" cy="377.6" r="1.4" fill="#1f77b4" stroke="#fff" stroke-width="0.4"/>
<circle cx="685.8" cy="380.5" r="1.4" fill="#1f77b4" stroke="#fff" stroke-width="0.4"/>
<circle cx="685.8" cy="383.4" r="1.4" fill="#1f77b4" stroke="#fff" stroke-width="0.4"/>
<circle cx="685.8" cy="386.4" r="1.4" fill="#1f77b4" stroke="#fff" stroke-width="0.4"/>
<circle cx="685.8" cy="389.3" r="1.4" fill="#1f77b4" stroke="#fff" stroke-width="0.4"/>
<circle cx="685.8" cy="392.2" r="1.4" fill="#1f77b4" stroke="#fff" stroke-width="0.4"/>
<circle cx="685.8" cy="395.1" r="1.4" fill="#1f77b4" stroke="#fff" stroke-width="0.4"/>
<circle cx="685.8" cy="398.1" r="1.4" fill="#1f77b4" stroke="#fff" stroke-width="0.4"/>
<circle cx="685.8" cy="401.0" r="1.4" fill="#1f77b4" stroke="#fff" stroke-width="0.4"/>
<circle cx="685.8" cy="403.9" r="1.4" fill="#1f77b4" stroke="#fff" stroke-width="0.4"/>
<circle cx="685.8" cy="406.8" r="1.4" fill="#1f77b4" stroke="#fff" stroke-width="0.4"/>
<circle cx="685.8" cy="409.8" r="1.4" fill="#1f77b4" stroke="#fff" stroke-width="0.4"/>
<circle cx="685.8" cy="412.7" r="1.4" fill="#1f77b4" stroke="#fff" stroke-width="0.4"/>
<circle cx="694.5" cy="360.0" r="1.4" fill="#d62728" stroke="#fff" stroke-width="0.4"/>
<circle cx="694.5" cy="363.5" r="1.4" fill="#d62728" stroke="#fff" stroke-width="0.4"/>
<circle cx="694.5" cy="366.9" r="1.4" fill="#d62728" stroke="#fff" stroke-width="0.4"/>
<circle cx="694.5" cy="370.4" r="1.4" fill="#d62728" stroke="#fff" stroke-width="0.4"/>
<circle cx="694.5" cy="373.8" r="1.4" fill="#d62728" stroke="#fff" stroke-width="0.4"/>
<circle cx="694.5" cy="377.3" r="1.4" fill="#d62728" stroke="#fff" stroke-width="0.4"/>
<circle cx="694.5" cy="380.7" r="1.4" fill="#d62728" stroke="#fff" stroke-width="0.4"/>
<circle cx="694.5" cy="384.2" r="1.4" fill="#d62728" stroke="#fff" stroke-width="0.4"/>
<circle cx="694.5" cy="387.6" r="1.4" fill="#d62728" stroke="#fff" stroke-width="0.4"/>
<circle cx="694.5" cy="391.1" r="1.4" fill="#d62728" stroke="#fff" stroke-width="0.4"/>
<circle cx="694.5" cy="394.5" r="1.4" fill="#d62728" stroke="#fff" stroke-width="0.4"/>
<circle cx="694.5" cy="398.0" r="1.4" fill="#d62728" stroke="#fff" stroke-width="0.4"/>
<circle cx="695.0" cy="399.5" r="1.4" fill="#2ca02c" stroke="#fff" stroke-width="0.4"/>
<circle cx="695.0" cy="402.2" r="1.4" fill="#2ca02c" stroke="#fff" stroke-width="0.4"/>
<circle cx="695.0" cy="404.9" r="1.4" fill="#2ca02c" stroke="#fff" stroke-width="0.4"/>
<circle cx="695.0" cy="407.6" r="1.4" fill="#2ca02c" stroke="#fff" stroke-width="0.4"/>
<circle cx="695.0" cy="410.4" r="1.4" fill="#2ca02c" stroke="#fff" stroke-width="0.4"/>
<circle cx="695.0" cy="413.1" r="1.4" fill="#2ca02c" stroke="#fff" stroke-width="0.4"/>
<circle cx="695.0" cy="415.8" r="1.4" fill="#2ca02c" stroke="#fff" stroke-width="0.4"/>
<circle cx="688.7" cy="411.6" r="1.4" fill="#2ca02c" stroke="#fff" stroke-width="0.4"/>
<circle cx="688.7" cy="414.7" r="1.4" fill="#2ca02c" stroke="#fff" stroke-width="0.4"/>
<circle cx="688.7" cy="417.9" r="1.4" fill="#2ca02c" stroke="#fff" stroke-width="0.4"/>
<circle cx="688.7" cy="421.0" r="1.4" fill="#2ca02c" stroke="#fff" stroke-width="0.4"/>
<circle cx="711.8" cy="272.3" r="1.4" fill="#1f77b4" stroke="#fff" stroke-width="0.4"/>
<circle cx="711.8" cy="274.6" r="1.4" fill="#1f77b4" stroke="#fff" stroke-width="0.4"/>
<circle cx="711.8" cy="277.0" r="1.4" fill="#1f77b4" stroke="#fff" stroke-width="0.4"/>
<circle cx="711.8" cy="279.3" r="1.4" fill="#1f77b4" stroke="#fff" stroke-width="0.4"/>
<circle cx="711.8" cy="281.6" r="1.4" fill="#1f77b4" stroke="#fff" stroke-width="0.4"/>
<circle cx="711.8" cy="288.1" r="1.4" fill="#1f77b4" stroke="#fff" stroke-width="0.4"/>
<circle cx="711.8" cy="291.1" r="1.4" fill="#1f77b4" stroke="#fff" stroke-width="0.4"/>
<circle cx="711.8" cy="294.1" r="1.4" fill="#1f77b4" stroke="#fff" stroke-width="0.4"/>
<circle cx="711.8" cy="297.1" r="1.4" fill="#1f77b4" stroke="#fff" stroke-width="0.4"/>
<circle cx="711.8" cy="300.1" r="1.4" fill="#1f77b4" stroke="#fff" stroke-width="0.4"/>
<circle cx="711.8" cy="303.1" r="1.4" fill="#1f77b4" stroke="#fff" stroke-width="0.4"/>
<circle cx="711.8" cy="306.1" r="1.4" fill="#1f77b4" stroke="#fff" stroke-width="0.4"/>
<circle cx="711.8" cy="315.1" r="1.4" fill="#1f77b4" stroke="#fff" stroke-width="0.4"/>
<circle cx="724.8" cy="282.4" r="1.4" fill="#1f77b4" stroke="#fff" stroke-width="0.4"/>
<circle cx="693.8" cy="291.7" r="1.4" fill="#1f77b4" stroke="#fff" stroke-width="0.4"/>
<circle cx="675.0" cy="295.3" r="1.4" fill="#1f77b4" stroke="#fff" stroke-width="0.4"/>
<circle cx="679.4" cy="303.3" r="1.4" fill="#1f77b4" stroke="#fff" stroke-width="0.4"/>
<circle cx="724.8" cy="353.0" r="1.4" fill="#1f77b4" stroke="#fff" stroke-width="0.4"/>
<circle cx="715.2" cy="352.9" r="1.4" fill="#1f77b4" stroke="#fff" stroke-width="0.4"/>
<circle cx="682.3" cy="301.8" r="1.4" fill="#2ca02c" stroke="#fff" stroke-width="0.4"/>
<circle cx="694.2" cy="317.7" r="1.4" fill="#1f77b4" stroke="#fff" stroke-width="0.4"/>
<circle cx="694.2" cy="320.7" r="1.4" fill="#1f77b4" stroke="#fff" stroke-width="0.4"/>
<circle cx="694.2" cy="323.8" r="1.4" fill="#1f77b4" stroke="#fff" stroke-width="0.4"/>
<circle cx="694.2" cy="326.8" r="1.4" fill="#1f77b4" stroke="#fff" stroke-width="0.4"/>
<circle cx="694.2" cy="329.8" r="1.4" fill="#1f77b4" stroke="#fff" stroke-width="0.4"/>
<circle cx="694.2" cy="332.9" r="1.4" fill="#1f77b4" stroke="#fff" stroke-width="0.4"/>
<circle cx="694.2" cy="335.9" r="1.4" fill="#1f77b4" stroke="#fff" stroke-width="0.4"/>
<circle cx="694.2" cy="338.9" r="1.4" fill="#1f77b4" stroke="#fff" stroke-width="0.4"/>
<circle cx="694.2" cy="342.0" r="1.4" fill="#1f77b4" stroke="#fff" stroke-width="0.4"/>
<circle cx="694.2" cy="345.0" r="1.4" fill="#1f77b4" stroke="#fff" stroke-width="0.4"/>
<circle cx="740.0" cy="317.7" r="1.4" fill="#2ca02c" stroke="#fff" stroke-width="0.4"/>
<circle cx="740.0" cy="322.7" r="1.4" fill="#2ca02c" stroke="#fff" stroke-width="0.4"/>
<circle cx="740.0" cy="325.2" r="1.4" fill="#2ca02c" stroke="#fff" stroke-width="0.4"/>
<circle cx="740.0" cy="327.7" r="1.4" fill="#2ca02c" stroke="#fff" stroke-width="0.4"/>
<circle cx="740.0" cy="330.2" r="1.4" fill="#2ca02c" stroke="#fff" stroke-width="0.4"/>
<circle cx="740.0" cy="332.7" r="1.4" fill="#2ca02c" stroke="#fff" stroke-width="0.4"/>
<circle cx="740.0" cy="335.2" r="1.4" fill="#2ca02c" stroke="#fff" stroke-width="0.4"/>
<circle cx="740.0" cy="337.6" r="1.4" fill="#2ca02c" stroke="#fff" stroke-width="0.4"/>
<circle cx="740.0" cy="340.1" r="1.4" fill="#2ca02c" stroke="#fff" stroke-width="0.4"/>
<circle cx="740.0" cy="342.6" r="1.4" fill="#2ca02c" stroke="#fff" stroke-width="0.4"/>
<circle cx="740.0" cy="345.1" r="1.4" fill="#2ca02c" stroke="#fff" stroke-width="0.4"/>
<circle cx="740.0" cy="347.6" r="1.4" fill="#2ca02c" stroke="#fff" stroke-width="0.4"/>
<circle cx="740.0" cy="350.1" r="1.4" fill="#2ca02c" stroke="#fff" stroke-width="0.4"/>
<circle cx="755.8" cy="293.2" r="1.4" fill="#d62728" stroke="#fff" stroke-width="0.4"/>
<circle cx="755.8" cy="295.8" r="1.4" fill="#d62728" stroke="#fff" stroke-width="0.4"/>
<circle cx="755.8" cy="298.3" r="1.4" fill="#d62728" stroke="#fff" stroke-width="0.4"/>
<circle cx="755.8" cy="300.9" r="1.4" fill="#d62728" stroke="#fff" stroke-width="0.4"/>
<circle cx="755.8" cy="303.5" r="1.4" fill="#d62728" stroke="#fff" stroke-width="0.4"/>
<circle cx="755.8" cy="306.0" r="1.4" fill="#d62728" stroke="#fff" stroke-width="0.4"/>
<circle cx="755.8" cy="308.6" r="1.4" fill="#d62728" stroke="#fff" stroke-width="0.4"/>
<circle cx="755.8" cy="311.2" r="1.4" fill="#d62728" stroke="#fff" stroke-width="0.4"/>
<circle cx="755.8" cy="313.7" r="1.4" fill="#d62728" stroke="#fff" stroke-width="0.4"/>
<circle cx="755.8" cy="316.3" r="1.4" fill="#d62728" stroke="#fff" stroke-width="0.4"/>
<circle cx="755.8" cy="318.9" r="1.4" fill="#d62728" stroke="#fff" stroke-width="0.4"/>
<circle cx="755.8" cy="321.4" r="1.4" fill="#d62728" stroke="#fff" stroke-width="0.4"/>
<circle cx="755.8" cy="324.0" r="1.4" fill="#d62728" stroke="#fff" stroke-width="0.4"/>
<circle cx="755.8" cy="326.6" r="1.4" fill="#d62728" stroke="#fff" stroke-width="0.4"/>
<circle cx="755.8" cy="329.1" r="1.4" fill="#d62728" stroke="#fff" stroke-width="0.4"/>
<circle cx="755.8" cy="331.7" r="1.4" fill="#d62728" stroke="#fff" stroke-width="0.4"/>
<circle cx="755.8" cy="334.3" r="1.4" fill="#d62728" stroke="#fff" stroke-width="0.4"/>
<circle cx="755.8" cy="336.9" r="1.4" fill="#d62728" stroke="#fff" stroke-width="0.4"/>
<circle cx="755.8" cy="339.4" r="1.4" fill="#d62728" stroke="#fff" stroke-width="0.4"/>
<circle cx="755.8" cy="342.0" r="1.4" fill="#d62728" stroke="#fff" stroke-width="0.4"/>
<circle cx="755.8" cy="344.6" r="1.4" fill="#d62728" stroke="#fff" stroke-width="0.4"/>
<circle cx="755.8" cy="347.1" r="1.4" fill="#d62728" stroke="#fff" stroke-width="0.4"/>
<circle cx="755.8" cy="349.7" r="1.4" fill="#d62728" stroke="#fff" stroke-width="0.4"/>
<circle cx="755.8" cy="352.3" r="1.4" fill="#d62728" stroke="#fff" stroke-width="0.4"/>
<circle cx="755.8" cy="354.8" r="1.4" fill="#d62728" stroke="#fff" stroke-width="0.4"/>
<circle cx="755.8" cy="357.4" r="1.4" fill="#d62728" stroke="#fff" stroke-width="0.4"/>
<circle cx="755.8" cy="360.0" r="1.4" fill="#d62728" stroke="#fff" stroke-width="0.4"/>
<circle cx="755.8" cy="362.5" r="1.4" fill="#d62728" stroke="#fff" stroke-width="0.4"/>
<circle cx="755.8" cy="365.1" r="1.4" fill="#d62728" stroke="#fff" stroke-width="0.4"/>
<circle cx="765.9" cy="309.0" r="1.4" fill="#2ca02c" stroke="#fff" stroke-width="0.4"/>
<circle cx="686.0" cy="360.4" r="1.4" fill="#1f77b4" stroke="#fff" stroke-width="0.4"/>
<circle cx="686.0" cy="366.0" r="1.4" fill="#1f77b4" stroke="#fff" stroke-width="0.4"/>
<circle cx="686.0" cy="372.6" r="1.4" fill="#1f77b4" stroke="#fff" stroke-width="0.4"/>
<circle cx="686.0" cy="375.8" r="1.4" fill="#1f77b4" stroke="#fff" stroke-width="0.4"/>
<circle cx="686.0" cy="378.9" r="1.4" fill="#1f77b4" stroke="#fff" stroke-width="0.4"/>
<circle cx="686.0" cy="382.1" r="1.4" fill="#1f77b4" stroke="#fff" stroke-width="0.4"/>
<circle cx="686.0" cy="385.2" r="1.4" fill="#1f77b4" stroke="#fff" stroke-width="0.4"/>
<circle cx="686.0" cy="388.4" r="1.4" fill="#1f77b4" stroke="#fff" stroke-width="0.4"/>
<circle cx="686.0" cy="391.5" r="1.4" fill="#1f77b4" stroke="#fff" stroke-width="0.4"/>
<circle cx="686.0" cy="394.7" r="1.4" fill="#1f77b4" stroke="#fff" stroke-width="0.4"/>
<circle cx="686.0" cy="397.8" r="1.4" fill="#1f77b4" stroke="#fff" stroke-width="0.4"/>
<circle cx="686.0" cy="401.0" r="1.4" fill="#1f77b4" stroke="#fff" stroke-width="0.4"/>
<circle cx="686.0" cy="406.5" r="1.4" fill="#1f77b4" stroke="#fff" stroke-width="0.4"/>
<circle cx="686.0" cy="408.8" r="1.4" fill="#1f77b4" stroke="#fff" stroke-width="0.4"/>
<circle cx="686.0" cy="411.0" r="1.4" fill="#1f77b4" stroke="#fff" stroke-width="0.4"/>
<circle cx="686.0" cy="413.3" r="1.4" fill="#1f77b4" stroke="#fff" stroke-width="0.4"/>
<circle cx="689.0" cy="410.6" r="1.4" fill="#2ca02c" stroke="#fff" stroke-width="0.4"/>
<circle cx="689.0" cy="413.3" r="1.4" fill="#2ca02c" stroke="#fff" stroke-width="0.4"/>
<circle cx="689.0" cy="416.0" r="1.4" fill="#2ca02c" stroke="#fff" stroke-width="0.4"/>
<circle cx="689.0" cy="418.7" r="1.4" fill="#2ca02c" stroke="#fff" stroke-width="0.4"/>
<circle cx="689.0" cy="421.4" r="1.4" fill="#2ca02c" stroke="#fff" stroke-width="0.4"/>
<circle cx="694.8" cy="355.0" r="1.4" fill="#d62728" stroke="#fff" stroke-width="0.4"/>
<circle cx="694.8" cy="358.4" r="1.4" fill="#d62728" stroke="#fff" stroke-width="0.4"/>
<circle cx="694.8" cy="361.8" r="1.4" fill="#d62728" stroke="#fff" stroke-width="0.4"/>
<circle cx="694.8" cy="365.1" r="1.4" fill="#d62728" stroke="#fff" stroke-width="0.4"/>
<circle cx="694.8" cy="368.5" r="1.4" fill="#d62728" stroke="#fff" stroke-width="0.4"/>
<circle cx="694.8" cy="371.9" r="1.4" fill="#d62728" stroke="#fff" stroke-width="0.4"/>
<circle cx="694.8" cy="375.3" r="1.4" fill="#d62728" stroke="#fff" stroke-width="0.4"/>
<circle cx="694.8" cy="382.8" r="1.4" fill="#d62728" stroke="#fff" stroke-width="0.4"/>
<circle cx="694.8" cy="386.4" r="1.4" fill="#d62728" stroke="#fff" stroke-width="0.4"/>
<circle cx="694.8" cy="390.1" r="1.4" fill="#d62728" stroke="#fff" stroke-width="0.4"/>
<circle cx="694.8" cy="393.7" r="1.4" fill="#d62728" stroke="#fff" stroke-width="0.4"/>
<circle cx="694.8" cy="397.4" r="1.4" fill="#d62728" stroke="#fff" stroke-width="0.4"/>
<circle cx="694.8" cy="401.0" r="1.4" fill="#d62728" stroke="#fff" stroke-width="0.4"/>
<circle cx="694.8" cy="399.0" r="1.4" fill="#2ca02c" stroke="#fff" stroke-width="0.4"/>
<circle cx="694.8" cy="401.8" r="1.4" fill="#2ca02c" stroke="#fff" stroke-width="0.4"/>
<circle cx="694.8" cy="404.7" r="1.4" fill="#2ca02c" stroke="#fff" stroke-width="0.4"/>
<circle cx="694.8" cy="407.5" r="1.4" fill="#2ca02c" stroke="#fff" stroke-width="0.4"/>
<circle cx="694.8" cy="410.3" r="1.4" fill="#2ca02c" stroke="#fff" stroke-width="0.4"/>
<circle cx="694.8" cy="413.2" r="1.4" fill="#2ca02c" stroke="#fff" stroke-width="0.4"/>
<circle cx="694.8" cy="416.0" r="1.4" fill="#2ca02c" stroke="#fff" stroke-width="0.4"/>
<circle cx="701.2" cy="346.0" r="1.4" fill="#1f77b4" stroke="#fff" stroke-width="0.4"/>
<circle cx="701.2" cy="348.6" r="1.4" fill="#1f77b4" stroke="#fff" stroke-width="0.4"/>
<circle cx="701.2" cy="351.1" r="1.4" fill="#1f77b4" stroke="#fff" stroke-width="0.4"/>
<circle cx="701.2" cy="353.7" r="1.4" fill="#1f77b4" stroke="#fff" stroke-width="0.4"/>
<circle cx="701.2" cy="356.3" r="1.4" fill="#1f77b4" stroke="#fff" stroke-width="0.4"/>
<circle cx="705.3" cy="356.3" r="1.4" fill="#1f77b4" stroke="#fff" stroke-width="0.4"/>
<circle cx="705.3" cy="359.2" r="1.4" fill="#1f77b4" stroke="#fff" stroke-width="0.4"/>
<circle cx="705.3" cy="362.1" r="1.4" fill="#1f77b4" stroke="#fff" stroke-width="0.4"/>
<circle cx="705.3" cy="365.0" r="1.4" fill="#1f77b4" stroke="#fff" stroke-width="0.4"/>
<circle cx="706.4" cy="378.0" r="1.4" fill="#1f77b4" stroke="#fff" stroke-width="0.4"/>
<circle cx="706.4" cy="389.5" r="1.4" fill="#1f77b4" stroke="#fff" stroke-width="0.4"/>
<circle cx="706.4" cy="406.5" r="1.4" fill="#1f77b4" stroke="#fff" stroke-width="0.4"/>
<circle cx="706.4" cy="410.6" r="1.4" fill="#1f77b4" stroke="#fff" stroke-width="0.4"/>
<circle cx="706.4" cy="414.6" r="1.4" fill="#1f77b4" stroke="#fff" stroke-width="0.4"/>
<circle cx="706.4" cy="419.4" r="1.4" fill="#2ca02c" stroke="#fff" stroke-width="0.4"/>
<circle cx="706.4" cy="422.1" r="1.4" fill="#2ca02c" stroke="#fff" stroke-width="0.4"/>
<circle cx="706.4" cy="424.8" r="1.4" fill="#2ca02c" stroke="#fff" stroke-width="0.4"/>
<circle cx="702.6" cy="410.0" r="1.4" fill="#2ca02c" stroke="#fff" stroke-width="0.4"/>
<circle cx="702.6" cy="412.7" r="1.4" fill="#2ca02c" stroke="#fff" stroke-width="0.4"/>
<circle cx="702.6" cy="415.3" r="1.4" fill="#2ca02c" stroke="#fff" stroke-width="0.4"/>
<circle cx="702.6" cy="418.0" r="1.4" fill="#2ca02c" stroke="#fff" stroke-width="0.4"/>
<circle cx="710.7" cy="378.7" r="1.4" fill="#1f77b4" stroke="#fff" stroke-width="0.4"/>
<circle cx="710.7" cy="381.4" r="1.4" fill="#1f77b4" stroke="#fff" stroke-width="0.4"/>
<circle cx="710.7" cy="384.1" r="1.4" fill="#1f77b4" stroke="#fff" stroke-width="0.4"/>
<circle cx="710.7" cy="386.8" r="1.4" fill="#1f77b4" stroke="#fff" stroke-width="0.4"/>
<circle cx="710.7" cy="389.5" r="1.4" fill="#1f77b4" stroke="#fff" stroke-width="0.4"/>
<circle cx="715.2" cy="374.6" r="1.4" fill="#1f77b4" stroke="#fff" stroke-width="0.4"/>
<circle cx="715.2" cy="377.3" r="1.4" fill="#1f77b4" stroke="#fff" stroke-width="0.4"/>
<circle cx="715.2" cy="380.0" r="1.4" fill="#1f77b4" stroke="#fff" stroke-width="0.4"/>
<circle cx="715.2" cy="382.7" r="1.4" fill="#1f77b4" stroke="#fff" stroke-width="0.4"/>
<circle cx="715.2" cy="385.5" r="1.4" fill="#1f77b4" stroke="#fff" stroke-width="0.4"/>
<circle cx="715.2" cy="388.2" r="1.4" fill="#1f77b4" stroke="#fff" stroke-width="0.4"/>
<circle cx="715.2" cy="390.9" r="1.4" fill="#1f77b4" stroke="#fff" stroke-width="0.4"/>
<circle cx="715.2" cy="393.6" r="1.4" fill="#1f77b4" stroke="#fff" stroke-width="0.4"/>
<circle cx="732.0" cy="370.5" r="1.4" fill="#d62728" stroke="#fff" stroke-width="0.4"/>
<circle cx="732.0" cy="373.1" r="1.4" fill="#d62728" stroke="#fff" stroke-width="0.4"/>
<circle cx="732.0" cy="375.6" r="1.4" fill="#d62728" stroke="#fff" stroke-width="0.4"/>
<circle cx="732.0" cy="378.1" r="1.4" fill="#d62728" stroke="#fff" stroke-width="0.4"/>
<circle cx="732.0" cy="380.7" r="1.4" fill="#d62728" stroke="#fff" stroke-width="0.4"/>
<circle cx="732.0" cy="383.2" r="1.4" fill="#d62728" stroke="#fff" stroke-width="0.4"/>
<circle cx="732.0" cy="385.8" r="1.4" fill="#d62728" stroke="#fff" stroke-width="0.4"/>
<circle cx="732.0" cy="388.3" r="1.4" fill="#d62728" stroke="#fff" stroke-width="0.4"/>
<circle cx="732.0" cy="390.9" r="1.4" fill="#d62728" stroke="#fff" stroke-width="0.4"/>
<circle cx="738.5" cy="340.0" r="1.4" fill="#2ca02c" stroke="#fff" stroke-width="0.4"/>
<circle cx="738.5" cy="342.4" r="1.4" fill="#2ca02c" stroke="#fff" stroke-width="0.4"/>
<circle cx="738.5" cy="344.8" r="1.4" fill="#2ca02c" stroke="#fff" stroke-width="0.4"/>
<circle cx="738.5" cy="347.1" r="1.4" fill="#2ca02c" stroke="#fff" stroke-width="0.4"/>
<circle cx="738.5" cy="349.5" r="1.4" fill="#2ca02c" stroke="#fff" stroke-width="0.4"/>
<path d="M592.20,391.05 L593.31,390.10 L594.41,389.16 L595.52,388.23 L596.62,387.32 L597.73,386.41 L598.83,385.51 L599.94,384.63 L601.04,383.76 L602.14,382.89 L603.25,382.04 L604.36,381.20 L605.46,380.37 L606.57,379.54 L607.67,378.73 L608.78,377.94 L609.88,377.15 L610.99,376.37 L612.09,375.60 L613.20,374.85 L614.30,374.10 L615.40,373.37 L616.51,372.65 L617.62,371.93 L618.72,371.23 L619.83,370.54 L620.93,369.86 L622.04,369.20 L623.14,368.54 L624.25,367.89 L625.35,367.26 L626.46,366.63 L627.56,366.02 L628.67,365.42 L629.77,364.82 L630.88,364.24 L631.98,363.68 L633.09,363.12 L634.19,362.57 L635.29,362.03 L636.40,361.51 L637.50,361.00 L638.61,360.49 L639.72,360.00 L640.82,359.52 L641.93,359.05 L643.03,358.60 L644.13,358.15 L645.24,357.71 L646.35,357.29 L647.45,356.88 L648.55,356.48 L649.66,356.09 L650.76,355.71 L651.87,355.34 L652.98,354.98 L654.08,354.64 L655.19,354.31 L656.29,353.98 L657.39,353.67 L658.50,353.37 L659.61,353.09 L660.71,352.81 L661.82,352.55 L662.92,352.29 L664.02,352.05 L665.13,351.82 L666.24,351.60 L667.34,351.39 L668.44,351.20 L669.55,351.01 L670.65,350.84 L671.76,350.68 L672.87,350.53 L673.97,350.39 L675.08,350.26 L676.18,350.15 L677.28,350.04 L678.39,349.95 L679.50,349.87 L680.60,349.80 L681.70,349.75 L682.81,349.70 L683.91,349.67 L685.02,349.65 L686.12,349.64 L687.23,349.64 L688.34,349.65 L689.44,349.68 L690.54,349.72 L691.65,349.76 L692.75,349.83 L693.86,349.90 L694.96,349.98 L696.07,350.08 L697.17,350.19 L698.28,350.31 L699.38,350.44 L700.49,350.58 L701.60,350.74 L702.70,350.91 L703.80,351.09 L704.91,351.28 L706.01,351.48 L707.12,351.70 L708.22,351.92 L709.33,352.16 L710.43,352.42 L711.54,352.68 L712.64,352.96 L713.75,353.24 L714.86,353.54 L715.96,353.85 L717.06,354.18 L718.17,354.51 L719.27,354.86 L720.38,355.22 L721.48,355.60 L722.59,355.98 L723.69,356.38 L724.80,356.79" fill="none" stroke="#1f77b4" stroke-width="1.3"/>
<path d="M629.30,354.65 L630.44,354.84 L631.58,355.03 L632.71,355.21 L633.85,355.38 L634.99,355.55 L636.13,355.71 L637.27,355.87 L638.41,356.02 L639.54,356.16 L640.68,356.29 L641.82,356.42 L642.96,356.54 L644.10,356.65 L645.24,356.75 L646.38,356.85 L647.51,356.94 L648.65,357.02 L649.79,357.10 L650.93,357.17 L652.07,357.22 L653.20,357.28 L654.34,357.32 L655.48,357.35 L656.62,357.38 L657.76,357.40 L658.90,357.41 L660.03,357.41 L661.17,357.40 L662.31,357.39 L663.45,357.37 L664.59,357.33 L665.73,357.29 L666.87,357.24 L668.00,357.18 L669.14,357.11 L670.28,357.03 L671.42,356.95 L672.56,356.85 L673.69,356.74 L674.83,356.63 L675.97,356.50 L677.11,356.37 L678.25,356.22 L679.39,356.07 L680.52,355.91 L681.66,355.73 L682.80,355.55 L683.94,355.35 L685.08,355.15 L686.22,354.93 L687.36,354.71 L688.49,354.47 L689.63,354.22 L690.77,353.97 L691.91,353.70 L693.05,353.42 L694.18,353.13 L695.32,352.83 L696.46,352.52 L697.60,352.19 L698.74,351.86 L699.88,351.51 L701.01,351.16 L702.15,350.79 L703.29,350.41 L704.43,350.02 L705.57,349.61 L706.71,349.20 L707.85,348.77 L708.98,348.33 L710.12,347.88 L711.26,347.41 L712.40,346.94 L713.54,346.45 L714.67,345.95 L715.81,345.43 L716.95,344.91 L718.09,344.37 L719.23,343.82 L720.37,343.25 L721.50,342.68 L722.64,342.09 L723.78,341.48 L724.92,340.87 L726.06,340.24 L727.20,339.59 L728.34,338.94 L729.47,338.27 L730.61,337.58 L731.75,336.89 L732.89,336.18 L734.03,335.45 L735.16,334.71 L736.30,333.96 L737.44,333.19 L738.58,332.41 L739.72,331.62 L740.86,330.81 L742.00,329.98 L743.13,329.14 L744.27,328.29 L745.41,327.42 L746.55,326.54 L747.69,325.64 L748.82,324.73 L749.96,323.80 L751.10,322.86 L752.24,321.90 L753.38,320.93 L754.52,319.94 L755.65,318.94 L756.79,317.92 L757.93,316.88 L759.07,315.83 L760.21,314.77 L761.35,313.69 L762.49,312.59 L763.62,311.47 L764.76,310.34 L765.90,309.20" fill="none" stroke="#2ca02c" stroke-width="1.3"/>
<path d="M625.00,317.41 L626.10,319.10 L627.19,320.75 L628.29,322.39 L629.38,323.99 L630.48,325.57 L631.58,327.13 L632.67,328.66 L633.77,330.16 L634.86,331.64 L635.96,333.10 L637.05,334.52 L638.15,335.92 L639.25,337.30 L640.34,338.65 L641.44,339.97 L642.53,341.27 L643.63,342.54 L644.73,343.79 L645.82,345.01 L646.92,346.21 L648.01,347.38 L649.11,348.52 L650.20,349.64 L651.30,350.73 L652.40,351.79 L653.49,352.83 L654.59,353.85 L655.68,354.83 L656.78,355.80 L657.88,356.73 L658.97,357.64 L660.07,358.53 L661.16,359.38 L662.26,360.22 L663.35,361.02 L664.45,361.80 L665.55,362.55 L666.64,363.28 L667.74,363.98 L668.83,364.66 L669.93,365.31 L671.02,365.93 L672.12,366.53 L673.22,367.10 L674.31,367.64 L675.41,368.16 L676.50,368.65 L677.60,369.12 L678.70,369.56 L679.79,369.97 L680.89,370.36 L681.98,370.72 L683.08,371.06 L684.17,371.37 L685.27,371.65 L686.37,371.90 L687.46,372.13 L688.56,372.34 L689.65,372.51 L690.75,372.66 L691.85,372.79 L692.94,372.88 L694.04,372.95 L695.13,373.00 L696.23,373.02 L697.33,373.01 L698.42,372.97 L699.52,372.91 L700.61,372.82 L701.71,372.71 L702.80,372.57 L703.90,372.40 L705.00,372.21 L706.09,371.99 L707.19,371.74 L708.28,371.47 L709.38,371.17 L710.48,370.84 L711.57,370.49 L712.67,370.11 L713.76,369.70 L714.86,369.26 L715.95,368.80 L717.05,368.32 L718.15,367.80 L719.24,367.26 L720.34,366.69 L721.43,366.10 L722.53,365.48 L723.62,364.83 L724.72,364.16 L725.82,363.46 L726.91,362.73 L728.01,361.97 L729.10,361.19 L730.20,360.38 L731.30,359.55 L732.39,358.68 L733.49,357.79 L734.58,356.88 L735.68,355.93 L736.77,354.96 L737.87,353.97 L738.97,352.94 L740.06,351.89 L741.16,350.81 L742.25,349.71 L743.35,348.57 L744.45,347.41 L745.54,346.23 L746.64,345.01 L747.73,343.77 L748.83,342.51 L749.92,341.21 L751.02,339.89 L752.12,338.54 L753.21,337.16 L754.31,335.76 L755.40,334.33 L756.50,332.87" fill="none" stroke="#d62728" stroke-width="1.3" stroke-dasharray="14.9 13.27" stroke-dashoffset="7.15"/>
<line x1="661.7" y1="251.6" x2="673.0" y2="251.6" stroke="#d62728" stroke-width="1.1"/>
<circle cx="667.3000000000001" cy="251.6" r="1.1" fill="#d62728"/>
<text x="674.9000000000001" y="253.9" font-size="6.5" fill="#2a2a2a" xml:space="preserve">Low (<tspan font-style="italic">R</tspan><tspan font-size="4.2" dy="-2.3">2</tspan><tspan dy="2.3">=0.38, </tspan><tspan font-style="italic">p</tspan> = 5.75e-02)</text>
<line x1="661.7" y1="258.9" x2="673.0" y2="258.9" stroke="#2ca02c" stroke-width="1.1"/>
<circle cx="667.3000000000001" cy="258.9" r="1.1" fill="#2ca02c"/>
<text x="674.9000000000001" y="261.2" font-size="6.5" fill="#2a2a2a" xml:space="preserve">Medium (<tspan font-style="italic">R</tspan><tspan font-size="4.2" dy="-2.3">2</tspan><tspan dy="2.3">= 0.07, </tspan><tspan font-style="italic">p</tspan> = 1.18e-03)</text>
<line x1="661.7" y1="266.4" x2="673.0" y2="266.4" stroke="#1f77b4" stroke-width="1.1"/>
<circle cx="667.3000000000001" cy="266.4" r="1.1" fill="#1f77b4"/>
<text x="674.9000000000001" y="268.7" font-size="6.5" fill="#2a2a2a" xml:space="preserve">High (<tspan font-style="italic">R</tspan><tspan font-size="4.2" dy="-2.3">2</tspan><tspan dy="2.3"> = 0.17, </tspan><tspan font-style="italic">p</tspan> = 4.42e-27)</text>
<line x1="581.8" y1="425.20" x2="583.8" y2="425.20" stroke="#222" stroke-width="0.8"/>
<text x="579.90" y="427.20" font-size="6" text-anchor="end" fill="#2e2e2e">1</text>
<line x1="581.8" y1="403.90" x2="583.8" y2="403.90" stroke="#222" stroke-width="0.8"/>
<text x="579.90" y="405.90" font-size="6" text-anchor="end" fill="#2e2e2e">2</text>
<line x1="581.8" y1="382.60" x2="583.8" y2="382.60" stroke="#222" stroke-width="0.8"/>
<text x="579.90" y="384.60" font-size="6" text-anchor="end" fill="#2e2e2e">3</text>
<line x1="581.8" y1="361.30" x2="583.8" y2="361.30" stroke="#222" stroke-width="0.8"/>
<text x="579.90" y="363.30" font-size="6" text-anchor="end" fill="#2e2e2e">4</text>
<line x1="581.8" y1="340.00" x2="583.8" y2="340.00" stroke="#222" stroke-width="0.8"/>
<text x="579.90" y="342.00" font-size="6" text-anchor="end" fill="#2e2e2e">5</text>
<line x1="581.8" y1="318.70" x2="583.8" y2="318.70" stroke="#222" stroke-width="0.8"/>
<text x="579.90" y="320.70" font-size="6" text-anchor="end" fill="#2e2e2e">6</text>
<line x1="581.8" y1="297.40" x2="583.8" y2="297.40" stroke="#222" stroke-width="0.8"/>
<text x="579.90" y="299.40" font-size="6" text-anchor="end" fill="#2e2e2e">7</text>
<line x1="581.8" y1="276.10" x2="583.8" y2="276.10" stroke="#222" stroke-width="0.8"/>
<text x="579.90" y="278.10" font-size="6" text-anchor="end" fill="#2e2e2e">8</text>
<line x1="581.8" y1="254.80" x2="583.8" y2="254.80" stroke="#222" stroke-width="0.8"/>
<text x="579.90" y="256.80" font-size="6" text-anchor="end" fill="#2e2e2e">9</text>
<line x1="607.11" y1="432.6" x2="607.11" y2="434.6" stroke="#222" stroke-width="0.8"/>
<text x="607.11" y="440.30" font-size="6" text-anchor="middle" fill="#2e2e2e">0.3</text>
<line x1="630.48" y1="432.6" x2="630.48" y2="434.6" stroke="#222" stroke-width="0.8"/>
<text x="630.48" y="440.30" font-size="6" text-anchor="middle" fill="#2e2e2e">0.4</text>
<line x1="653.85" y1="432.6" x2="653.85" y2="434.6" stroke="#222" stroke-width="0.8"/>
<text x="653.85" y="440.30" font-size="6" text-anchor="middle" fill="#2e2e2e">0.5</text>
<line x1="677.22" y1="432.6" x2="677.22" y2="434.6" stroke="#222" stroke-width="0.8"/>
<text x="677.22" y="440.30" font-size="6" text-anchor="middle" fill="#2e2e2e">0.6</text>
<line x1="700.59" y1="432.6" x2="700.59" y2="434.6" stroke="#222" stroke-width="0.8"/>
<text x="700.59" y="440.30" font-size="6" text-anchor="middle" fill="#2e2e2e">0.7</text>
<line x1="723.96" y1="432.6" x2="723.96" y2="434.6" stroke="#222" stroke-width="0.8"/>
<text x="723.96" y="440.30" font-size="6" text-anchor="middle" fill="#2e2e2e">0.8</text>
<line x1="747.33" y1="432.6" x2="747.33" y2="434.6" stroke="#222" stroke-width="0.8"/>
<text x="747.33" y="440.30" font-size="6" text-anchor="middle" fill="#2e2e2e">0.9</text>
<line x1="770.70" y1="432.6" x2="770.70" y2="434.6" stroke="#222" stroke-width="0.8"/>
<text x="770.70" y="440.30" font-size="6" text-anchor="middle" fill="#2e2e2e">1.0</text>
<rect x="583.8" y="246.8" width="190.6" height="185.8" fill="none" stroke="#2b2b2b" stroke-width="1.2"/>
<text x="680.5" y="464.3" font-size="13.1" text-anchor="middle" fill="#231f20">Pesticide risk−Mean diurnal range</text>
<text transform="translate(566.2,571.2) rotate(-90)" font-size="11.25" text-anchor="middle" fill="#231f20">Health-microbial index</text>
<circle cx="654.8" cy="478.8" r="1.4" fill="#1f77b4" stroke="#fff" stroke-width="0.4"/>
<circle cx="654.8" cy="481.6" r="1.4" fill="#1f77b4" stroke="#fff" stroke-width="0.4"/>
<circle cx="654.8" cy="484.2" r="1.4" fill="#1f77b4" stroke="#fff" stroke-width="0.4"/>
<circle cx="679.8" cy="486.2" r="1.4" fill="#1f77b4" stroke="#fff" stroke-width="0.4"/>
<circle cx="614.5" cy="505.0" r="1.4" fill="#1f77b4" stroke="#fff" stroke-width="0.4"/>
<circle cx="592.4" cy="541.2" r="1.4" fill="#1f77b4" stroke="#fff" stroke-width="0.4"/>
<circle cx="645.8" cy="500.9" r="1.4" fill="#1f77b4" stroke="#fff" stroke-width="0.4"/>
<circle cx="645.8" cy="512.9" r="1.4" fill="#1f77b4" stroke="#fff" stroke-width="0.4"/>
<circle cx="669.5" cy="501.8" r="1.4" fill="#1f77b4" stroke="#fff" stroke-width="0.4"/>
<circle cx="610.0" cy="511.6" r="1.4" fill="#1f77b4" stroke="#fff" stroke-width="0.4"/>
<circle cx="610.0" cy="496.0" r="1.4" fill="#1f77b4" stroke="#fff" stroke-width="0.4"/>
<circle cx="610.0" cy="498.6" r="1.4" fill="#1f77b4" stroke="#fff" stroke-width="0.4"/>
<circle cx="610.0" cy="501.2" r="1.4" fill="#1f77b4" stroke="#fff" stroke-width="0.4"/>
<circle cx="610.0" cy="503.8" r="1.4" fill="#1f77b4" stroke="#fff" stroke-width="0.4"/>
<circle cx="610.0" cy="516.0" r="1.4" fill="#1f77b4" stroke="#fff" stroke-width="0.4"/>
<circle cx="610.0" cy="518.6" r="1.4" fill="#1f77b4" stroke="#fff" stroke-width="0.4"/>
<circle cx="610.0" cy="521.3" r="1.4" fill="#1f77b4" stroke="#fff" stroke-width="0.4"/>
<circle cx="610.0" cy="524.5" r="1.4" fill="#d62728" stroke="#fff" stroke-width="0.4"/>
<circle cx="601.5" cy="522.6" r="1.4" fill="#d62728" stroke="#fff" stroke-width="0.4"/>
<circle cx="615.8" cy="532.6" r="1.4" fill="#d62728" stroke="#fff" stroke-width="0.4"/>
<circle cx="615.8" cy="541.3" r="1.4" fill="#d62728" stroke="#fff" stroke-width="0.4"/>
<circle cx="670.4" cy="507.4" r="1.4" fill="#d62728" stroke="#fff" stroke-width="0.4"/>
<circle cx="670.4" cy="519.1" r="1.4" fill="#d62728" stroke="#fff" stroke-width="0.4"/>
<circle cx="602.2" cy="547.8" r="1.4" fill="#d62728" stroke="#fff" stroke-width="0.4"/>
<circle cx="601.3" cy="564.7" r="1.4" fill="#d62728" stroke="#fff" stroke-width="0.4"/>
<circle cx="597.4" cy="563.4" r="1.4" fill="#d62728" stroke="#fff" stroke-width="0.4"/>
<circle cx="597.4" cy="577.2" r="1.4" fill="#d62728" stroke="#fff" stroke-width="0.4"/>
<circle cx="597.4" cy="582.9" r="1.4" fill="#d62728" stroke="#fff" stroke-width="0.4"/>
<circle cx="605.7" cy="516.1" r="1.4" fill="#d62728" stroke="#fff" stroke-width="0.4"/>
<circle cx="605.7" cy="518.9" r="1.4" fill="#d62728" stroke="#fff" stroke-width="0.4"/>
<circle cx="605.7" cy="521.7" r="1.4" fill="#d62728" stroke="#fff" stroke-width="0.4"/>
<circle cx="605.7" cy="524.5" r="1.4" fill="#d62728" stroke="#fff" stroke-width="0.4"/>
<circle cx="605.7" cy="527.3" r="1.4" fill="#d62728" stroke="#fff" stroke-width="0.4"/>
<circle cx="605.7" cy="530.1" r="1.4" fill="#d62728" stroke="#fff" stroke-width="0.4"/>
<circle cx="605.7" cy="533.0" r="1.4" fill="#d62728" stroke="#fff" stroke-width="0.4"/>
<circle cx="605.7" cy="535.8" r="1.4" fill="#d62728" stroke="#fff" stroke-width="0.4"/>
<circle cx="605.7" cy="538.6" r="1.4" fill="#d62728" stroke="#fff" stroke-width="0.4"/>
<circle cx="605.7" cy="541.4" r="1.4" fill="#d62728" stroke="#fff" stroke-width="0.4"/>
<circle cx="605.7" cy="544.2" r="1.4" fill="#d62728" stroke="#fff" stroke-width="0.4"/>
<circle cx="605.7" cy="547.0" r="1.4" fill="#d62728" stroke="#fff" stroke-width="0.4"/>
<circle cx="605.7" cy="549.8" r="1.4" fill="#d62728" stroke="#fff" stroke-width="0.4"/>
<circle cx="605.7" cy="552.6" r="1.4" fill="#d62728" stroke="#fff" stroke-width="0.4"/>
<circle cx="605.7" cy="555.4" r="1.4" fill="#d62728" stroke="#fff" stroke-width="0.4"/>
<circle cx="605.7" cy="558.2" r="1.4" fill="#d62728" stroke="#fff" stroke-width="0.4"/>
<circle cx="605.7" cy="561.0" r="1.4" fill="#d62728" stroke="#fff" stroke-width="0.4"/>
<circle cx="605.7" cy="563.8" r="1.4" fill="#d62728" stroke="#fff" stroke-width="0.4"/>
<circle cx="605.7" cy="566.7" r="1.4" fill="#d62728" stroke="#fff" stroke-width="0.4"/>
<circle cx="605.7" cy="569.5" r="1.4" fill="#d62728" stroke="#fff" stroke-width="0.4"/>
<circle cx="605.7" cy="572.3" r="1.4" fill="#d62728" stroke="#fff" stroke-width="0.4"/>
<circle cx="605.7" cy="575.1" r="1.4" fill="#d62728" stroke="#fff" stroke-width="0.4"/>
<circle cx="605.7" cy="577.9" r="1.4" fill="#d62728" stroke="#fff" stroke-width="0.4"/>
<circle cx="605.7" cy="580.7" r="1.4" fill="#d62728" stroke="#fff" stroke-width="0.4"/>
<circle cx="598.3" cy="540.0" r="1.4" fill="#d62728" stroke="#fff" stroke-width="0.4"/>
<circle cx="598.3" cy="543.0" r="1.4" fill="#d62728" stroke="#fff" stroke-width="0.4"/>
<circle cx="598.3" cy="546.1" r="1.4" fill="#d62728" stroke="#fff" stroke-width="0.4"/>
<circle cx="598.3" cy="549.1" r="1.4" fill="#d62728" stroke="#fff" stroke-width="0.4"/>
<circle cx="598.3" cy="552.1" r="1.4" fill="#d62728" stroke="#fff" stroke-width="0.4"/>
<circle cx="598.3" cy="555.2" r="1.4" fill="#d62728" stroke="#fff" stroke-width="0.4"/>
<circle cx="598.3" cy="558.2" r="1.4" fill="#d62728" stroke="#fff" stroke-width="0.4"/>
<circle cx="616.0" cy="550.4" r="1.4" fill="#d62728" stroke="#fff" stroke-width="0.4"/>
<circle cx="616.0" cy="553.0" r="1.4" fill="#d62728" stroke="#fff" stroke-width="0.4"/>
<circle cx="616.0" cy="555.6" r="1.4" fill="#d62728" stroke="#fff" stroke-width="0.4"/>
<circle cx="616.0" cy="559.5" r="1.4" fill="#d62728" stroke="#fff" stroke-width="0.4"/>
<circle cx="616.0" cy="562.5" r="1.4" fill="#d62728" stroke="#fff" stroke-width="0.4"/>
<circle cx="616.0" cy="565.6" r="1.4" fill="#d62728" stroke="#fff" stroke-width="0.4"/>
<circle cx="616.0" cy="568.6" r="1.4" fill="#d62728" stroke="#fff" stroke-width="0.4"/>
<circle cx="639.2" cy="509.0" r="1.4" fill="#1f77b4" stroke="#fff" stroke-width="0.4"/>
<circle cx="639.2" cy="512.0" r="1.4" fill="#1f77b4" stroke="#fff" stroke-width="0.4"/>
<circle cx="639.2" cy="515.0" r="1.4" fill="#1f77b4" stroke="#fff" stroke-width="0.4"/>
<circle cx="639.2" cy="518.0" r="1.4" fill="#1f77b4" stroke="#fff" stroke-width="0.4"/>
<circle cx="639.2" cy="521.1" r="1.4" fill="#1f77b4" stroke="#fff" stroke-width="0.4"/>
<circle cx="639.2" cy="524.1" r="1.4" fill="#1f77b4" stroke="#fff" stroke-width="0.4"/>
<circle cx="639.2" cy="527.1" r="1.4" fill="#1f77b4" stroke="#fff" stroke-width="0.4"/>
<circle cx="639.1" cy="553.0" r="1.4" fill="#1f77b4" stroke="#fff" stroke-width="0.4"/>
<circle cx="639.1" cy="556.0" r="1.4" fill="#1f77b4" stroke="#fff" stroke-width="0.4"/>
<circle cx="639.1" cy="559.0" r="1.4" fill="#1f77b4" stroke="#fff" stroke-width="0.4"/>
<circle cx="639.1" cy="563.8" r="1.4" fill="#1f77b4" stroke="#fff" stroke-width="0.4"/>
<circle cx="639.1" cy="567.1" r="1.4" fill="#1f77b4" stroke="#fff" stroke-width="0.4"/>
<circle cx="639.1" cy="570.5" r="1.4" fill="#1f77b4" stroke="#fff" stroke-width="0.4"/>
<circle cx="639.1" cy="573.9" r="1.4" fill="#1f77b4" stroke="#fff" stroke-width="0.4"/>
<circle cx="639.1" cy="577.2" r="1.4" fill="#1f77b4" stroke="#fff" stroke-width="0.4"/>
<circle cx="639.1" cy="595.0" r="1.4" fill="#1f77b4" stroke="#fff" stroke-width="0.4"/>
<circle cx="603.0" cy="576.8" r="1.4" fill="#1f77b4" stroke="#fff" stroke-width="0.4"/>
<circle cx="603.0" cy="579.7" r="1.4" fill="#1f77b4" stroke="#fff" stroke-width="0.4"/>
<circle cx="603.0" cy="582.6" r="1.4" fill="#1f77b4" stroke="#fff" stroke-width="0.4"/>
<circle cx="603.0" cy="585.5" r="1.4" fill="#1f77b4" stroke="#fff" stroke-width="0.4"/>
<circle cx="606.5" cy="586.3" r="1.4" fill="#1f77b4" stroke="#fff" stroke-width="0.4"/>
<circle cx="608.7" cy="572.0" r="1.4" fill="#1f77b4" stroke="#fff" stroke-width="0.4"/>
<circle cx="608.7" cy="574.6" r="1.4" fill="#1f77b4" stroke="#fff" stroke-width="0.4"/>
<circle cx="610.0" cy="579.8" r="1.4" fill="#d62728" stroke="#fff" stroke-width="0.4"/>
<circle cx="610.0" cy="582.4" r="1.4" fill="#d62728" stroke="#fff" stroke-width="0.4"/>
<circle cx="610.0" cy="585.0" r="1.4" fill="#d62728" stroke="#fff" stroke-width="0.4"/>
<circle cx="610.0" cy="587.6" r="1.4" fill="#d62728" stroke="#fff" stroke-width="0.4"/>
<circle cx="610.0" cy="590.2" r="1.4" fill="#d62728" stroke="#fff" stroke-width="0.4"/>
<circle cx="615.2" cy="572.0" r="1.4" fill="#1f77b4" stroke="#fff" stroke-width="0.4"/>
<circle cx="615.2" cy="575.5" r="1.4" fill="#1f77b4" stroke="#fff" stroke-width="0.4"/>
<circle cx="625.6" cy="567.7" r="1.4" fill="#1f77b4" stroke="#fff" stroke-width="0.4"/>
<circle cx="625.6" cy="570.9" r="1.4" fill="#1f77b4" stroke="#fff" stroke-width="0.4"/>
<circle cx="625.6" cy="574.0" r="1.4" fill="#1f77b4" stroke="#fff" stroke-width="0.4"/>
<circle cx="625.6" cy="577.2" r="1.4" fill="#1f77b4" stroke="#fff" stroke-width="0.4"/>
<circle cx="618.2" cy="591.5" r="1.4" fill="#d62728" stroke="#fff" stroke-width="0.4"/>
<circle cx="618.2" cy="594.3" r="1.4" fill="#d62728" stroke="#fff" stroke-width="0.4"/>
<circle cx="618.2" cy="597.0" r="1.4" fill="#d62728" stroke="#fff" stroke-width="0.4"/>
<circle cx="618.2" cy="599.8" r="1.4" fill="#d62728" stroke="#fff" stroke-width="0.4"/>
<circle cx="618.2" cy="602.5" r="1.4" fill="#d62728" stroke="#fff" stroke-width="0.4"/>
<circle cx="618.2" cy="605.3" r="1.4" fill="#d62728" stroke="#fff" stroke-width="0.4"/>
<circle cx="618.2" cy="608.0" r="1.4" fill="#d62728" stroke="#fff" stroke-width="0.4"/>
<circle cx="618.2" cy="610.8" r="1.4" fill="#d62728" stroke="#fff" stroke-width="0.4"/>
<circle cx="608.7" cy="594.5" r="1.4" fill="#1f77b4" stroke="#fff" stroke-width="0.4"/>
<circle cx="608.7" cy="597.2" r="1.4" fill="#1f77b4" stroke="#fff" stroke-width="0.4"/>
<circle cx="608.7" cy="599.9" r="1.4" fill="#1f77b4" stroke="#fff" stroke-width="0.4"/>
<circle cx="608.7" cy="602.6" r="1.4" fill="#1f77b4" stroke="#fff" stroke-width="0.4"/>
<circle cx="608.7" cy="605.3" r="1.4" fill="#1f77b4" stroke="#fff" stroke-width="0.4"/>
<circle cx="608.7" cy="608.0" r="1.4" fill="#1f77b4" stroke="#fff" stroke-width="0.4"/>
<circle cx="608.7" cy="610.7" r="1.4" fill="#1f77b4" stroke="#fff" stroke-width="0.4"/>
<circle cx="608.7" cy="613.4" r="1.4" fill="#1f77b4" stroke="#fff" stroke-width="0.4"/>
<circle cx="606.7" cy="600.4" r="1.4" fill="#1f77b4" stroke="#fff" stroke-width="0.4"/>
<circle cx="606.7" cy="603.1" r="1.4" fill="#1f77b4" stroke="#fff" stroke-width="0.4"/>
<circle cx="606.7" cy="605.9" r="1.4" fill="#1f77b4" stroke="#fff" stroke-width="0.4"/>
<circle cx="606.7" cy="608.6" r="1.4" fill="#1f77b4" stroke="#fff" stroke-width="0.4"/>
<circle cx="606.7" cy="611.4" r="1.4" fill="#1f77b4" stroke="#fff" stroke-width="0.4"/>
<circle cx="625.8" cy="601.7" r="1.4" fill="#2ca02c" stroke="#fff" stroke-width="0.4"/>
<circle cx="625.8" cy="604.5" r="1.4" fill="#2ca02c" stroke="#fff" stroke-width="0.4"/>
<circle cx="625.8" cy="607.2" r="1.4" fill="#2ca02c" stroke="#fff" stroke-width="0.4"/>
<circle cx="625.8" cy="610.0" r="1.4" fill="#2ca02c" stroke="#fff" stroke-width="0.4"/>
<circle cx="625.8" cy="612.7" r="1.4" fill="#2ca02c" stroke="#fff" stroke-width="0.4"/>
<circle cx="645.8" cy="512.9" r="1.4" fill="#1f77b4" stroke="#fff" stroke-width="0.4"/>
<circle cx="654.7" cy="512.0" r="1.4" fill="#1f77b4" stroke="#fff" stroke-width="0.4"/>
<circle cx="656.6" cy="522.3" r="1.4" fill="#1f77b4" stroke="#fff" stroke-width="0.4"/>
<circle cx="656.6" cy="528.2" r="1.4" fill="#1f77b4" stroke="#fff" stroke-width="0.4"/>
<circle cx="656.6" cy="537.3" r="1.4" fill="#1f77b4" stroke="#fff" stroke-width="0.4"/>
<circle cx="690.4" cy="514.5" r="1.4" fill="#1f77b4" stroke="#fff" stroke-width="0.4"/>
<circle cx="693.0" cy="518.0" r="1.4" fill="#1f77b4" stroke="#fff" stroke-width="0.4"/>
<circle cx="705.3" cy="524.3" r="1.4" fill="#1f77b4" stroke="#fff" stroke-width="0.4"/>
<circle cx="685.2" cy="530.5" r="1.4" fill="#1f77b4" stroke="#fff" stroke-width="0.4"/>
<circle cx="682.6" cy="538.6" r="1.4" fill="#1f77b4" stroke="#fff" stroke-width="0.4"/>
<circle cx="687.1" cy="538.6" r="1.4" fill="#1f77b4" stroke="#fff" stroke-width="0.4"/>
<circle cx="693.0" cy="547.0" r="1.4" fill="#1f77b4" stroke="#fff" stroke-width="0.4"/>
<circle cx="693.0" cy="552.2" r="1.4" fill="#1f77b4" stroke="#fff" stroke-width="0.4"/>
<circle cx="651.4" cy="550.3" r="1.4" fill="#1f77b4" stroke="#fff" stroke-width="0.4"/>
<circle cx="651.4" cy="562.6" r="1.4" fill="#1f77b4" stroke="#fff" stroke-width="0.4"/>
<circle cx="651.4" cy="571.7" r="1.4" fill="#1f77b4" stroke="#fff" stroke-width="0.4"/>
<circle cx="657.9" cy="566.5" r="1.4" fill="#1f77b4" stroke="#fff" stroke-width="0.4"/>
<circle cx="659.9" cy="569.7" r="1.4" fill="#1f77b4" stroke="#fff" stroke-width="0.4"/>
<circle cx="705.3" cy="549.6" r="1.4" fill="#1f77b4" stroke="#fff" stroke-width="0.4"/>
<circle cx="704.7" cy="554.2" r="1.4" fill="#1f77b4" stroke="#fff" stroke-width="0.4"/>
<circle cx="705.3" cy="563.2" r="1.4" fill="#1f77b4" stroke="#fff" stroke-width="0.4"/>
<circle cx="708.6" cy="563.2" r="1.4" fill="#1f77b4" stroke="#fff" stroke-width="0.4"/>
<circle cx="719.0" cy="545.0" r="1.4" fill="#1f77b4" stroke="#fff" stroke-width="0.4"/>
<circle cx="719.6" cy="552.9" r="1.4" fill="#1f77b4" stroke="#fff" stroke-width="0.4"/>
<circle cx="650.8" cy="562.6" r="1.4" fill="#1f77b4" stroke="#fff" stroke-width="0.4"/>
<circle cx="687.1" cy="541.2" r="1.4" fill="#1f77b4" stroke="#fff" stroke-width="0.4"/>
<circle cx="690.4" cy="544.4" r="1.4" fill="#1f77b4" stroke="#fff" stroke-width="0.4"/>
<circle cx="679.4" cy="554.8" r="1.4" fill="#1f77b4" stroke="#fff" stroke-width="0.4"/>
<circle cx="685.2" cy="554.8" r="1.4" fill="#1f77b4" stroke="#fff" stroke-width="0.4"/>
<circle cx="667.7" cy="556.8" r="1.4" fill="#1f77b4" stroke="#fff" stroke-width="0.4"/>
<circle cx="680.6" cy="486.2" r="1.4" fill="#1f77b4" stroke="#fff" stroke-width="0.4"/>
<circle cx="690.5" cy="514.4" r="1.4" fill="#1f77b4" stroke="#fff" stroke-width="0.4"/>
<circle cx="693.2" cy="518.0" r="1.4" fill="#1f77b4" stroke="#fff" stroke-width="0.4"/>
<circle cx="705.5" cy="524.3" r="1.4" fill="#1f77b4" stroke="#fff" stroke-width="0.4"/>
<circle cx="684.8" cy="530.3" r="1.4" fill="#1f77b4" stroke="#fff" stroke-width="0.4"/>
<circle cx="639.1" cy="512.0" r="1.4" fill="#1f77b4" stroke="#fff" stroke-width="0.4"/>
<circle cx="639.1" cy="515.7" r="1.4" fill="#1f77b4" stroke="#fff" stroke-width="0.4"/>
<circle cx="639.1" cy="519.5" r="1.4" fill="#1f77b4" stroke="#fff" stroke-width="0.4"/>
<circle cx="639.1" cy="523.2" r="1.4" fill="#1f77b4" stroke="#fff" stroke-width="0.4"/>
<circle cx="639.1" cy="526.9" r="1.4" fill="#1f77b4" stroke="#fff" stroke-width="0.4"/>
<circle cx="682.6" cy="508.4" r="1.4" fill="#1f77b4" stroke="#fff" stroke-width="0.4"/>
<circle cx="682.6" cy="511.1" r="1.4" fill="#1f77b4" stroke="#fff" stroke-width="0.4"/>
<circle cx="682.6" cy="513.7" r="1.4" fill="#1f77b4" stroke="#fff" stroke-width="0.4"/>
<circle cx="682.6" cy="516.4" r="1.4" fill="#1f77b4" stroke="#fff" stroke-width="0.4"/>
<circle cx="682.6" cy="519.0" r="1.4" fill="#1f77b4" stroke="#fff" stroke-width="0.4"/>
<circle cx="682.6" cy="521.7" r="1.4" fill="#1f77b4" stroke="#fff" stroke-width="0.4"/>
<circle cx="700.1" cy="515.8" r="1.4" fill="#1f77b4" stroke="#fff" stroke-width="0.4"/>
<circle cx="700.1" cy="519.0" r="1.4" fill="#1f77b4" stroke="#fff" stroke-width="0.4"/>
<circle cx="700.1" cy="522.1" r="1.4" fill="#1f77b4" stroke="#fff" stroke-width="0.4"/>
<circle cx="700.1" cy="525.3" r="1.4" fill="#1f77b4" stroke="#fff" stroke-width="0.4"/>
<circle cx="700.1" cy="528.4" r="1.4" fill="#1f77b4" stroke="#fff" stroke-width="0.4"/>
<circle cx="700.1" cy="531.6" r="1.4" fill="#1f77b4" stroke="#fff" stroke-width="0.4"/>
<circle cx="700.1" cy="534.7" r="1.4" fill="#1f77b4" stroke="#fff" stroke-width="0.4"/>
<circle cx="700.1" cy="537.9" r="1.4" fill="#1f77b4" stroke="#fff" stroke-width="0.4"/>
<circle cx="690.4" cy="539.9" r="1.4" fill="#1f77b4" stroke="#fff" stroke-width="0.4"/>
<circle cx="690.4" cy="543.0" r="1.4" fill="#1f77b4" stroke="#fff" stroke-width="0.4"/>
<circle cx="690.4" cy="546.1" r="1.4" fill="#1f77b4" stroke="#fff" stroke-width="0.4"/>
<circle cx="690.4" cy="549.3" r="1.4" fill="#1f77b4" stroke="#fff" stroke-width="0.4"/>
<circle cx="690.4" cy="552.4" r="1.4" fill="#1f77b4" stroke="#fff" stroke-width="0.4"/>
<circle cx="690.4" cy="555.5" r="1.4" fill="#1f77b4" stroke="#fff" stroke-width="0.4"/>
<circle cx="654.0" cy="554.2" r="1.4" fill="#1f77b4" stroke="#fff" stroke-width="0.4"/>
<circle cx="654.0" cy="557.1" r="1.4" fill="#1f77b4" stroke="#fff" stroke-width="0.4"/>
<circle cx="654.0" cy="560.0" r="1.4" fill="#1f77b4" stroke="#fff" stroke-width="0.4"/>
<circle cx="654.0" cy="562.9" r="1.4" fill="#1f77b4" stroke="#fff" stroke-width="0.4"/>
<circle cx="654.0" cy="565.8" r="1.4" fill="#1f77b4" stroke="#fff" stroke-width="0.4"/>
<circle cx="669.0" cy="556.8" r="1.4" fill="#1f77b4" stroke="#fff" stroke-width="0.4"/>
<circle cx="669.0" cy="559.7" r="1.4" fill="#1f77b4" stroke="#fff" stroke-width="0.4"/>
<circle cx="669.0" cy="562.5" r="1.4" fill="#1f77b4" stroke="#fff" stroke-width="0.4"/>
<circle cx="669.0" cy="565.4" r="1.4" fill="#1f77b4" stroke="#fff" stroke-width="0.4"/>
<circle cx="669.0" cy="568.2" r="1.4" fill="#1f77b4" stroke="#fff" stroke-width="0.4"/>
<circle cx="669.0" cy="571.1" r="1.4" fill="#1f77b4" stroke="#fff" stroke-width="0.4"/>
<circle cx="669.0" cy="573.9" r="1.4" fill="#1f77b4" stroke="#fff" stroke-width="0.4"/>
<circle cx="669.0" cy="576.8" r="1.4" fill="#1f77b4" stroke="#fff" stroke-width="0.4"/>
<circle cx="669.0" cy="579.6" r="1.4" fill="#1f77b4" stroke="#fff" stroke-width="0.4"/>
<circle cx="669.0" cy="582.5" r="1.4" fill="#1f77b4" stroke="#fff" stroke-width="0.4"/>
<circle cx="669.0" cy="585.3" r="1.4" fill="#1f77b4" stroke="#fff" stroke-width="0.4"/>
<circle cx="669.0" cy="588.2" r="1.4" fill="#1f77b4" stroke="#fff" stroke-width="0.4"/>
<circle cx="669.0" cy="591.0" r="1.4" fill="#1f77b4" stroke="#fff" stroke-width="0.4"/>
<circle cx="669.0" cy="593.9" r="1.4" fill="#1f77b4" stroke="#fff" stroke-width="0.4"/>
<circle cx="669.0" cy="596.7" r="1.4" fill="#1f77b4" stroke="#fff" stroke-width="0.4"/>
<circle cx="669.0" cy="599.6" r="1.4" fill="#1f77b4" stroke="#fff" stroke-width="0.4"/>
<circle cx="674.8" cy="571.0" r="1.4" fill="#1f77b4" stroke="#fff" stroke-width="0.4"/>
<circle cx="674.8" cy="574.0" r="1.4" fill="#1f77b4" stroke="#fff" stroke-width="0.4"/>
<circle cx="674.8" cy="577.1" r="1.4" fill="#1f77b4" stroke="#fff" stroke-width="0.4"/>
<circle cx="674.8" cy="580.1" r="1.4" fill="#1f77b4" stroke="#fff" stroke-width="0.4"/>
<circle cx="659.9" cy="576.9" r="1.4" fill="#1f77b4" stroke="#fff" stroke-width="0.4"/>
<circle cx="659.9" cy="580.1" r="1.4" fill="#1f77b4" stroke="#fff" stroke-width="0.4"/>
<circle cx="659.9" cy="583.4" r="1.4" fill="#1f77b4" stroke="#fff" stroke-width="0.4"/>
<circle cx="645.6" cy="574.3" r="1.4" fill="#1f77b4" stroke="#fff" stroke-width="0.4"/>
<circle cx="645.6" cy="577.3" r="1.4" fill="#1f77b4" stroke="#fff" stroke-width="0.4"/>
<circle cx="645.6" cy="580.3" r="1.4" fill="#1f77b4" stroke="#fff" stroke-width="0.4"/>
<circle cx="645.6" cy="583.2" r="1.4" fill="#1f77b4" stroke="#fff" stroke-width="0.4"/>
<circle cx="645.6" cy="586.2" r="1.4" fill="#1f77b4" stroke="#fff" stroke-width="0.4"/>
<circle cx="645.6" cy="589.2" r="1.4" fill="#1f77b4" stroke="#fff" stroke-width="0.4"/>
<circle cx="656.6" cy="580.1" r="1.4" fill="#1f77b4" stroke="#fff" stroke-width="0.4"/>
<circle cx="656.6" cy="582.9" r="1.4" fill="#1f77b4" stroke="#fff" stroke-width="0.4"/>
<circle cx="656.6" cy="585.7" r="1.4" fill="#1f77b4" stroke="#fff" stroke-width="0.4"/>
<circle cx="656.6" cy="588.4" r="1.4" fill="#1f77b4" stroke="#fff" stroke-width="0.4"/>
<circle cx="656.6" cy="591.2" r="1.4" fill="#1f77b4" stroke="#fff" stroke-width="0.4"/>
<circle cx="661.8" cy="590.5" r="1.4" fill="#1f77b4" stroke="#fff" stroke-width="0.4"/>
<circle cx="661.8" cy="593.7" r="1.4" fill="#1f77b4" stroke="#fff" stroke-width="0.4"/>
<circle cx="661.8" cy="596.8" r="1.4" fill="#1f77b4" stroke="#fff" stroke-width="0.4"/>
<circle cx="661.8" cy="600.0" r="1.4" fill="#1f77b4" stroke="#fff" stroke-width="0.4"/>
<circle cx="670.9" cy="567.1" r="1.4" fill="#1f77b4" stroke="#fff" stroke-width="0.4"/>
<circle cx="670.9" cy="570.4" r="1.4" fill="#1f77b4" stroke="#fff" stroke-width="0.4"/>
<circle cx="670.9" cy="573.6" r="1.4" fill="#1f77b4" stroke="#fff" stroke-width="0.4"/>
<circle cx="670.9" cy="576.9" r="1.4" fill="#1f77b4" stroke="#fff" stroke-width="0.4"/>
<circle cx="670.9" cy="580.1" r="1.4" fill="#1f77b4" stroke="#fff" stroke-width="0.4"/>
<circle cx="670.9" cy="583.4" r="1.4" fill="#1f77b4" stroke="#fff" stroke-width="0.4"/>
<circle cx="670.9" cy="586.6" r="1.4" fill="#1f77b4" stroke="#fff" stroke-width="0.4"/>
<circle cx="670.9" cy="589.9" r="1.4" fill="#1f77b4" stroke="#fff" stroke-width="0.4"/>
<circle cx="670.9" cy="593.1" r="1.4" fill="#1f77b4" stroke="#fff" stroke-width="0.4"/>
<circle cx="670.9" cy="596.4" r="1.4" fill="#1f77b4" stroke="#fff" stroke-width="0.4"/>
<circle cx="670.9" cy="599.6" r="1.4" fill="#1f77b4" stroke="#fff" stroke-width="0.4"/>
<circle cx="682.6" cy="588.0" r="1.4" fill="#1f77b4" stroke="#fff" stroke-width="0.4"/>
<circle cx="682.6" cy="591.0" r="1.4" fill="#1f77b4" stroke="#fff" stroke-width="0.4"/>
<circle cx="682.6" cy="594.0" r="1.4" fill="#1f77b4" stroke="#fff" stroke-width="0.4"/>
<circle cx="682.6" cy="597.0" r="1.4" fill="#1f77b4" stroke="#fff" stroke-width="0.4"/>
<circle cx="682.6" cy="600.0" r="1.4" fill="#1f77b4" stroke="#fff" stroke-width="0.4"/>
<circle cx="683.9" cy="580.1" r="1.4" fill="#1f77b4" stroke="#fff" stroke-width="0.4"/>
<circle cx="683.9" cy="583.4" r="1.4" fill="#1f77b4" stroke="#fff" stroke-width="0.4"/>
<circle cx="683.9" cy="586.6" r="1.4" fill="#1f77b4" stroke="#fff" stroke-width="0.4"/>
<circle cx="706.6" cy="580.8" r="1.4" fill="#1f77b4" stroke="#fff" stroke-width="0.4"/>
<circle cx="706.6" cy="583.8" r="1.4" fill="#1f77b4" stroke="#fff" stroke-width="0.4"/>
<circle cx="706.6" cy="586.9" r="1.4" fill="#1f77b4" stroke="#fff" stroke-width="0.4"/>
<circle cx="706.6" cy="589.9" r="1.4" fill="#1f77b4" stroke="#fff" stroke-width="0.4"/>
<circle cx="719.6" cy="580.8" r="1.4" fill="#1f77b4" stroke="#fff" stroke-width="0.4"/>
<circle cx="719.6" cy="584.0" r="1.4" fill="#1f77b4" stroke="#fff" stroke-width="0.4"/>
<circle cx="719.6" cy="587.2" r="1.4" fill="#1f77b4" stroke="#fff" stroke-width="0.4"/>
<circle cx="719.6" cy="590.4" r="1.4" fill="#1f77b4" stroke="#fff" stroke-width="0.4"/>
<circle cx="719.6" cy="593.6" r="1.4" fill="#1f77b4" stroke="#fff" stroke-width="0.4"/>
<circle cx="719.6" cy="596.8" r="1.4" fill="#1f77b4" stroke="#fff" stroke-width="0.4"/>
<circle cx="719.6" cy="600.0" r="1.4" fill="#1f77b4" stroke="#fff" stroke-width="0.4"/>
<circle cx="654.0" cy="512.6" r="1.4" fill="#2ca02c" stroke="#fff" stroke-width="0.4"/>
<circle cx="657.0" cy="518.8" r="1.4" fill="#2ca02c" stroke="#fff" stroke-width="0.4"/>
<circle cx="667.9" cy="521.7" r="1.4" fill="#2ca02c" stroke="#fff" stroke-width="0.4"/>
<circle cx="665.1" cy="528.2" r="1.4" fill="#2ca02c" stroke="#fff" stroke-width="0.4"/>
<circle cx="665.1" cy="531.4" r="1.4" fill="#2ca02c" stroke="#fff" stroke-width="0.4"/>
<circle cx="667.7" cy="532.1" r="1.4" fill="#2ca02c" stroke="#fff" stroke-width="0.4"/>
<circle cx="681.9" cy="524.3" r="1.4" fill="#2ca02c" stroke="#fff" stroke-width="0.4"/>
<circle cx="691.7" cy="531.0" r="1.4" fill="#2ca02c" stroke="#fff" stroke-width="0.4"/>
<circle cx="680.0" cy="540.5" r="1.4" fill="#2ca02c" stroke="#fff" stroke-width="0.4"/>
<circle cx="681.9" cy="543.1" r="1.4" fill="#2ca02c" stroke="#fff" stroke-width="0.4"/>
<circle cx="672.2" cy="544.0" r="1.4" fill="#2ca02c" stroke="#fff" stroke-width="0.4"/>
<circle cx="674.8" cy="545.0" r="1.4" fill="#2ca02c" stroke="#fff" stroke-width="0.4"/>
<circle cx="665.1" cy="547.7" r="1.4" fill="#2ca02c" stroke="#fff" stroke-width="0.4"/>
<circle cx="662.5" cy="549.6" r="1.4" fill="#2ca02c" stroke="#fff" stroke-width="0.4"/>
<circle cx="668.3" cy="550.3" r="1.4" fill="#2ca02c" stroke="#fff" stroke-width="0.4"/>
<circle cx="653.4" cy="551.6" r="1.4" fill="#2ca02c" stroke="#fff" stroke-width="0.4"/>
<circle cx="656.6" cy="555.5" r="1.4" fill="#2ca02c" stroke="#fff" stroke-width="0.4"/>
<circle cx="665.1" cy="554.8" r="1.4" fill="#2ca02c" stroke="#fff" stroke-width="0.4"/>
<circle cx="663.1" cy="559.4" r="1.4" fill="#2ca02c" stroke="#fff" stroke-width="0.4"/>
<circle cx="665.1" cy="560.6" r="1.4" fill="#2ca02c" stroke="#fff" stroke-width="0.4"/>
<circle cx="667.7" cy="560.6" r="1.4" fill="#2ca02c" stroke="#fff" stroke-width="0.4"/>
<circle cx="672.2" cy="556.1" r="1.4" fill="#2ca02c" stroke="#fff" stroke-width="0.4"/>
<circle cx="663.1" cy="565.8" r="1.4" fill="#2ca02c" stroke="#fff" stroke-width="0.4"/>
<circle cx="665.7" cy="567.1" r="1.4" fill="#2ca02c" stroke="#fff" stroke-width="0.4"/>
<circle cx="685.8" cy="560.0" r="1.4" fill="#2ca02c" stroke="#fff" stroke-width="0.4"/>
<circle cx="678.7" cy="573.0" r="1.4" fill="#2ca02c" stroke="#fff" stroke-width="0.4"/>
<circle cx="678.7" cy="576.9" r="1.4" fill="#2ca02c" stroke="#fff" stroke-width="0.4"/>
<circle cx="718.3" cy="547.7" r="1.4" fill="#2ca02c" stroke="#fff" stroke-width="0.4"/>
<circle cx="682.6" cy="524.3" r="1.4" fill="#2ca02c" stroke="#fff" stroke-width="0.4"/>
<circle cx="657.0" cy="531.4" r="1.4" fill="#2ca02c" stroke="#fff" stroke-width="0.4"/>
<circle cx="657.0" cy="534.0" r="1.4" fill="#2ca02c" stroke="#fff" stroke-width="0.4"/>
<circle cx="674.8" cy="548.3" r="1.4" fill="#2ca02c" stroke="#fff" stroke-width="0.4"/>
<circle cx="674.8" cy="551.1" r="1.4" fill="#2ca02c" stroke="#fff" stroke-width="0.4"/>
<circle cx="674.8" cy="554.0" r="1.4" fill="#2ca02c" stroke="#fff" stroke-width="0.4"/>
<circle cx="674.8" cy="556.8" r="1.4" fill="#2ca02c" stroke="#fff" stroke-width="0.4"/>
<circle cx="674.8" cy="559.6" r="1.4" fill="#2ca02c" stroke="#fff" stroke-width="0.4"/>
<circle cx="674.8" cy="562.5" r="1.4" fill="#2ca02c" stroke="#fff" stroke-width="0.4"/>
<circle cx="674.8" cy="565.3" r="1.4" fill="#2ca02c" stroke="#fff" stroke-width="0.4"/>
<circle cx="674.8" cy="568.2" r="1.4" fill="#2ca02c" stroke="#fff" stroke-width="0.4"/>
<circle cx="674.8" cy="571.0" r="1.4" fill="#2ca02c" stroke="#fff" stroke-width="0.4"/>
<circle cx="713.8" cy="510.0" r="1.4" fill="#2ca02c" stroke="#fff" stroke-width="0.4"/>
<circle cx="713.8" cy="512.4" r="1.4" fill="#2ca02c" stroke="#fff" stroke-width="0.4"/>
<circle cx="713.8" cy="514.9" r="1.4" fill="#2ca02c" stroke="#fff" stroke-width="0.4"/>
<circle cx="713.8" cy="517.3" r="1.4" fill="#2ca02c" stroke="#fff" stroke-width="0.4"/>
<circle cx="713.8" cy="519.7" r="1.4" fill="#2ca02c" stroke="#fff" stroke-width="0.4"/>
<circle cx="713.8" cy="537.9" r="1.4" fill="#2ca02c" stroke="#fff" stroke-width="0.4"/>
<circle cx="713.8" cy="540.6" r="1.4" fill="#2ca02c" stroke="#fff" stroke-width="0.4"/>
<circle cx="713.8" cy="543.3" r="1.4" fill="#2ca02c" stroke="#fff" stroke-width="0.4"/>
<circle cx="713.8" cy="546.0" r="1.4" fill="#2ca02c" stroke="#fff" stroke-width="0.4"/>
<circle cx="713.8" cy="548.6" r="1.4" fill="#2ca02c" stroke="#fff" stroke-width="0.4"/>
<circle cx="713.8" cy="551.3" r="1.4" fill="#2ca02c" stroke="#fff" stroke-width="0.4"/>
<circle cx="713.8" cy="554.0" r="1.4" fill="#2ca02c" stroke="#fff" stroke-width="0.4"/>
<circle cx="713.8" cy="556.7" r="1.4" fill="#2ca02c" stroke="#fff" stroke-width="0.4"/>
<circle cx="713.8" cy="559.4" r="1.4" fill="#2ca02c" stroke="#fff" stroke-width="0.4"/>
<circle cx="670.3" cy="519.1" r="1.4" fill="#d62728" stroke="#fff" stroke-width="0.4"/>
<circle cx="681.9" cy="567.1" r="1.4" fill="#d62728" stroke="#fff" stroke-width="0.4"/>
<circle cx="716.8" cy="558.0" r="1.4" fill="#d62728" stroke="#fff" stroke-width="0.4"/>
<circle cx="654.0" cy="569.1" r="1.4" fill="#d62728" stroke="#fff" stroke-width="0.4"/>
<circle cx="654.0" cy="572.8" r="1.4" fill="#d62728" stroke="#fff" stroke-width="0.4"/>
<circle cx="654.0" cy="576.5" r="1.4" fill="#d62728" stroke="#fff" stroke-width="0.4"/>
<circle cx="654.0" cy="580.3" r="1.4" fill="#d62728" stroke="#fff" stroke-width="0.4"/>
<circle cx="654.0" cy="584.0" r="1.4" fill="#d62728" stroke="#fff" stroke-width="0.4"/>
<circle cx="682.6" cy="538.6" r="1.4" fill="#1f77b4" stroke="#fff" stroke-width="0.4"/>
<circle cx="687.2" cy="538.6" r="1.4" fill="#1f77b4" stroke="#fff" stroke-width="0.4"/>
<circle cx="690.5" cy="540.0" r="1.4" fill="#1f77b4" stroke="#fff" stroke-width="0.4"/>
<circle cx="719.7" cy="545.5" r="1.4" fill="#1f77b4" stroke="#fff" stroke-width="0.4"/>
<circle cx="719.7" cy="553.5" r="1.4" fill="#1f77b4" stroke="#fff" stroke-width="0.4"/>
<circle cx="705.5" cy="549.5" r="1.4" fill="#1f77b4" stroke="#fff" stroke-width="0.4"/>
<circle cx="703.1" cy="552.8" r="1.4" fill="#1f77b4" stroke="#fff" stroke-width="0.4"/>
<circle cx="721.0" cy="565.6" r="1.4" fill="#1f77b4" stroke="#fff" stroke-width="0.4"/>
<circle cx="700.5" cy="515.7" r="1.4" fill="#1f77b4" stroke="#fff" stroke-width="0.4"/>
<circle cx="700.5" cy="518.8" r="1.4" fill="#1f77b4" stroke="#fff" stroke-width="0.4"/>
<circle cx="700.5" cy="522.0" r="1.4" fill="#1f77b4" stroke="#fff" stroke-width="0.4"/>
<circle cx="700.5" cy="525.1" r="1.4" fill="#1f77b4" stroke="#fff" stroke-width="0.4"/>
<circle cx="700.5" cy="528.2" r="1.4" fill="#1f77b4" stroke="#fff" stroke-width="0.4"/>
<circle cx="700.5" cy="531.3" r="1.4" fill="#1f77b4" stroke="#fff" stroke-width="0.4"/>
<circle cx="700.5" cy="534.5" r="1.4" fill="#1f77b4" stroke="#fff" stroke-width="0.4"/>
<circle cx="700.5" cy="537.6" r="1.4" fill="#1f77b4" stroke="#fff" stroke-width="0.4"/>
<circle cx="766.1" cy="539.2" r="1.4" fill="#2ca02c" stroke="#fff" stroke-width="0.4"/>
<circle cx="766.1" cy="544.9" r="1.4" fill="#2ca02c" stroke="#fff" stroke-width="0.4"/>
<circle cx="766.1" cy="553.7" r="1.4" fill="#2ca02c" stroke="#fff" stroke-width="0.4"/>
<circle cx="718.0" cy="547.9" r="1.4" fill="#2ca02c" stroke="#fff" stroke-width="0.4"/>
<circle cx="685.6" cy="560.3" r="1.4" fill="#2ca02c" stroke="#fff" stroke-width="0.4"/>
<circle cx="719.5" cy="581.0" r="1.4" fill="#1f77b4" stroke="#fff" stroke-width="0.4"/>
<circle cx="719.5" cy="584.0" r="1.4" fill="#1f77b4" stroke="#fff" stroke-width="0.4"/>
<circle cx="719.5" cy="587.1" r="1.4" fill="#1f77b4" stroke="#fff" stroke-width="0.4"/>
<circle cx="719.5" cy="590.1" r="1.4" fill="#1f77b4" stroke="#fff" stroke-width="0.4"/>
<circle cx="719.5" cy="593.1" r="1.4" fill="#1f77b4" stroke="#fff" stroke-width="0.4"/>
<circle cx="719.5" cy="596.1" r="1.4" fill="#1f77b4" stroke="#fff" stroke-width="0.4"/>
<circle cx="719.5" cy="599.2" r="1.4" fill="#1f77b4" stroke="#fff" stroke-width="0.4"/>
<circle cx="719.5" cy="602.2" r="1.4" fill="#1f77b4" stroke="#fff" stroke-width="0.4"/>
<circle cx="719.5" cy="605.2" r="1.4" fill="#1f77b4" stroke="#fff" stroke-width="0.4"/>
<circle cx="719.5" cy="608.3" r="1.4" fill="#1f77b4" stroke="#fff" stroke-width="0.4"/>
<circle cx="719.5" cy="611.3" r="1.4" fill="#1f77b4" stroke="#fff" stroke-width="0.4"/>
<circle cx="719.5" cy="614.3" r="1.4" fill="#1f77b4" stroke="#fff" stroke-width="0.4"/>
<circle cx="719.5" cy="617.4" r="1.4" fill="#1f77b4" stroke="#fff" stroke-width="0.4"/>
<circle cx="719.5" cy="620.4" r="1.4" fill="#1f77b4" stroke="#fff" stroke-width="0.4"/>
<circle cx="719.5" cy="623.4" r="1.4" fill="#1f77b4" stroke="#fff" stroke-width="0.4"/>
<circle cx="719.5" cy="626.4" r="1.4" fill="#1f77b4" stroke="#fff" stroke-width="0.4"/>
<circle cx="719.5" cy="629.5" r="1.4" fill="#1f77b4" stroke="#fff" stroke-width="0.4"/>
<circle cx="719.5" cy="632.5" r="1.4" fill="#1f77b4" stroke="#fff" stroke-width="0.4"/>
<circle cx="706.5" cy="581.0" r="1.4" fill="#1f77b4" stroke="#fff" stroke-width="0.4"/>
<circle cx="706.5" cy="583.9" r="1.4" fill="#1f77b4" stroke="#fff" stroke-width="0.4"/>
<circle cx="706.5" cy="586.8" r="1.4" fill="#1f77b4" stroke="#fff" stroke-width="0.4"/>
<circle cx="706.5" cy="589.7" r="1.4" fill="#1f77b4" stroke="#fff" stroke-width="0.4"/>
<circle cx="701.3" cy="601.6" r="1.4" fill="#1f77b4" stroke="#fff" stroke-width="0.4"/>
<circle cx="701.3" cy="604.7" r="1.4" fill="#1f77b4" stroke="#fff" stroke-width="0.4"/>
<circle cx="701.3" cy="607.7" r="1.4" fill="#1f77b4" stroke="#fff" stroke-width="0.4"/>
<circle cx="701.3" cy="610.8" r="1.4" fill="#1f77b4" stroke="#fff" stroke-width="0.4"/>
<circle cx="701.3" cy="613.8" r="1.4" fill="#1f77b4" stroke="#fff" stroke-width="0.4"/>
<circle cx="701.3" cy="616.9" r="1.4" fill="#1f77b4" stroke="#fff" stroke-width="0.4"/>
<circle cx="701.3" cy="619.9" r="1.4" fill="#1f77b4" stroke="#fff" stroke-width="0.4"/>
<circle cx="701.3" cy="623.0" r="1.4" fill="#1f77b4" stroke="#fff" stroke-width="0.4"/>
<circle cx="705.2" cy="631.7" r="1.4" fill="#1f77b4" stroke="#fff" stroke-width="0.4"/>
<circle cx="705.2" cy="633.9" r="1.4" fill="#1f77b4" stroke="#fff" stroke-width="0.4"/>
<circle cx="705.2" cy="636.0" r="1.4" fill="#1f77b4" stroke="#fff" stroke-width="0.4"/>
<circle cx="731.1" cy="597.6" r="1.4" fill="#1f77b4" stroke="#fff" stroke-width="0.4"/>
<circle cx="731.1" cy="609.5" r="1.4" fill="#1f77b4" stroke="#fff" stroke-width="0.4"/>
<circle cx="731.1" cy="626.2" r="1.4" fill="#1f77b4" stroke="#fff" stroke-width="0.4"/>
<circle cx="731.1" cy="628.8" r="1.4" fill="#1f77b4" stroke="#fff" stroke-width="0.4"/>
<circle cx="731.1" cy="631.5" r="1.4" fill="#1f77b4" stroke="#fff" stroke-width="0.4"/>
<circle cx="731.1" cy="634.1" r="1.4" fill="#1f77b4" stroke="#fff" stroke-width="0.4"/>
<circle cx="721.6" cy="628.5" r="1.4" fill="#2ca02c" stroke="#fff" stroke-width="0.4"/>
<circle cx="721.6" cy="631.2" r="1.4" fill="#2ca02c" stroke="#fff" stroke-width="0.4"/>
<circle cx="721.6" cy="633.8" r="1.4" fill="#2ca02c" stroke="#fff" stroke-width="0.4"/>
<circle cx="721.6" cy="636.5" r="1.4" fill="#2ca02c" stroke="#fff" stroke-width="0.4"/>
<circle cx="735.0" cy="630.1" r="1.4" fill="#2ca02c" stroke="#fff" stroke-width="0.4"/>
<circle cx="735.0" cy="632.8" r="1.4" fill="#2ca02c" stroke="#fff" stroke-width="0.4"/>
<circle cx="735.0" cy="635.5" r="1.4" fill="#2ca02c" stroke="#fff" stroke-width="0.4"/>
<circle cx="735.0" cy="638.2" r="1.4" fill="#2ca02c" stroke="#fff" stroke-width="0.4"/>
<circle cx="735.0" cy="640.9" r="1.4" fill="#2ca02c" stroke="#fff" stroke-width="0.4"/>
<circle cx="735.0" cy="643.6" r="1.4" fill="#2ca02c" stroke="#fff" stroke-width="0.4"/>
<circle cx="740.9" cy="619.0" r="1.4" fill="#2ca02c" stroke="#fff" stroke-width="0.4"/>
<circle cx="740.9" cy="621.6" r="1.4" fill="#2ca02c" stroke="#fff" stroke-width="0.4"/>
<circle cx="740.9" cy="624.3" r="1.4" fill="#2ca02c" stroke="#fff" stroke-width="0.4"/>
<circle cx="740.9" cy="627.0" r="1.4" fill="#2ca02c" stroke="#fff" stroke-width="0.4"/>
<circle cx="740.9" cy="629.6" r="1.4" fill="#2ca02c" stroke="#fff" stroke-width="0.4"/>
<circle cx="740.9" cy="632.2" r="1.4" fill="#2ca02c" stroke="#fff" stroke-width="0.4"/>
<circle cx="740.9" cy="634.9" r="1.4" fill="#2ca02c" stroke="#fff" stroke-width="0.4"/>
<circle cx="714.1" cy="550.0" r="1.4" fill="#2ca02c" stroke="#fff" stroke-width="0.4"/>
<circle cx="714.1" cy="552.7" r="1.4" fill="#2ca02c" stroke="#fff" stroke-width="0.4"/>
<circle cx="714.1" cy="555.3" r="1.4" fill="#2ca02c" stroke="#fff" stroke-width="0.4"/>
<circle cx="714.1" cy="558.0" r="1.4" fill="#2ca02c" stroke="#fff" stroke-width="0.4"/>
<circle cx="683.5" cy="580.1" r="1.4" fill="#1f77b4" stroke="#fff" stroke-width="0.4"/>
<circle cx="683.5" cy="582.9" r="1.4" fill="#1f77b4" stroke="#fff" stroke-width="0.4"/>
<circle cx="683.5" cy="585.7" r="1.4" fill="#1f77b4" stroke="#fff" stroke-width="0.4"/>
<circle cx="681.1" cy="588.9" r="1.4" fill="#1f77b4" stroke="#fff" stroke-width="0.4"/>
<circle cx="681.1" cy="592.0" r="1.4" fill="#1f77b4" stroke="#fff" stroke-width="0.4"/>
<circle cx="681.1" cy="595.1" r="1.4" fill="#1f77b4" stroke="#fff" stroke-width="0.4"/>
<circle cx="681.1" cy="598.2" r="1.4" fill="#1f77b4" stroke="#fff" stroke-width="0.4"/>
<circle cx="681.1" cy="601.3" r="1.4" fill="#1f77b4" stroke="#fff" stroke-width="0.4"/>
<circle cx="681.1" cy="604.4" r="1.4" fill="#1f77b4" stroke="#fff" stroke-width="0.4"/>
<circle cx="681.1" cy="607.5" r="1.4" fill="#1f77b4" stroke="#fff" stroke-width="0.4"/>
<circle cx="681.1" cy="610.6" r="1.4" fill="#1f77b4" stroke="#fff" stroke-width="0.4"/>
<circle cx="681.1" cy="613.7" r="1.4" fill="#1f77b4" stroke="#fff" stroke-width="0.4"/>
<circle cx="681.1" cy="616.8" r="1.4" fill="#1f77b4" stroke="#fff" stroke-width="0.4"/>
<circle cx="681.1" cy="619.9" r="1.4" fill="#1f77b4" stroke="#fff" stroke-width="0.4"/>
<circle cx="681.1" cy="623.0" r="1.4" fill="#1f77b4" stroke="#fff" stroke-width="0.4"/>
<circle cx="676.3" cy="613.5" r="1.4" fill="#1f77b4" stroke="#fff" stroke-width="0.4"/>
<circle cx="676.3" cy="616.6" r="1.4" fill="#1f77b4" stroke="#fff" stroke-width="0.4"/>
<circle cx="676.3" cy="619.8" r="1.4" fill="#1f77b4" stroke="#fff" stroke-width="0.4"/>
<circle cx="674.0" cy="626.2" r="1.4" fill="#1f77b4" stroke="#fff" stroke-width="0.4"/>
<circle cx="674.0" cy="629.0" r="1.4" fill="#1f77b4" stroke="#fff" stroke-width="0.4"/>
<circle cx="676.7" cy="602.7" r="1.4" fill="#d62728" stroke="#fff" stroke-width="0.4"/>
<circle cx="681.9" cy="567.1" r="1.4" fill="#d62728" stroke="#fff" stroke-width="0.4"/>
<circle cx="716.0" cy="558.0" r="1.4" fill="#d62728" stroke="#fff" stroke-width="0.4"/>
<circle cx="676.9" cy="603.0" r="1.4" fill="#d62728" stroke="#fff" stroke-width="0.4"/>
<circle cx="670.4" cy="603.0" r="1.4" fill="#d62728" stroke="#fff" stroke-width="0.4"/>
<circle cx="670.4" cy="605.9" r="1.4" fill="#d62728" stroke="#fff" stroke-width="0.4"/>
<circle cx="670.4" cy="608.8" r="1.4" fill="#d62728" stroke="#fff" stroke-width="0.4"/>
<circle cx="670.4" cy="611.8" r="1.4" fill="#d62728" stroke="#fff" stroke-width="0.4"/>
<circle cx="670.4" cy="614.7" r="1.4" fill="#d62728" stroke="#fff" stroke-width="0.4"/>
<circle cx="670.4" cy="617.6" r="1.4" fill="#d62728" stroke="#fff" stroke-width="0.4"/>
<circle cx="670.4" cy="620.5" r="1.4" fill="#d62728" stroke="#fff" stroke-width="0.4"/>
<circle cx="675.6" cy="614.0" r="1.4" fill="#1f77b4" stroke="#fff" stroke-width="0.4"/>
<circle cx="675.6" cy="616.6" r="1.4" fill="#1f77b4" stroke="#fff" stroke-width="0.4"/>
<circle cx="675.6" cy="619.2" r="1.4" fill="#1f77b4" stroke="#fff" stroke-width="0.4"/>
<circle cx="654.8" cy="598.4" r="1.4" fill="#1f77b4" stroke="#fff" stroke-width="0.4"/>
<circle cx="654.8" cy="601.3" r="1.4" fill="#1f77b4" stroke="#fff" stroke-width="0.4"/>
<circle cx="654.8" cy="604.2" r="1.4" fill="#1f77b4" stroke="#fff" stroke-width="0.4"/>
<circle cx="654.8" cy="607.2" r="1.4" fill="#1f77b4" stroke="#fff" stroke-width="0.4"/>
<circle cx="654.8" cy="610.1" r="1.4" fill="#1f77b4" stroke="#fff" stroke-width="0.4"/>
<circle cx="661.7" cy="590.0" r="1.4" fill="#1f77b4" stroke="#fff" stroke-width="0.4"/>
<circle cx="661.7" cy="593.0" r="1.4" fill="#1f77b4" stroke="#fff" stroke-width="0.4"/>
<circle cx="661.7" cy="596.0" r="1.4" fill="#1f77b4" stroke="#fff" stroke-width="0.4"/>
<circle cx="661.7" cy="599.0" r="1.4" fill="#1f77b4" stroke="#fff" stroke-width="0.4"/>
<circle cx="661.7" cy="602.0" r="1.4" fill="#1f77b4" stroke="#fff" stroke-width="0.4"/>
<circle cx="661.7" cy="605.0" r="1.4" fill="#1f77b4" stroke="#fff" stroke-width="0.4"/>
<circle cx="661.7" cy="608.0" r="1.4" fill="#1f77b4" stroke="#fff" stroke-width="0.4"/>
<circle cx="661.7" cy="611.0" r="1.4" fill="#1f77b4" stroke="#fff" stroke-width="0.4"/>
<circle cx="661.7" cy="614.0" r="1.4" fill="#1f77b4" stroke="#fff" stroke-width="0.4"/>
<circle cx="639.2" cy="594.5" r="1.4" fill="#1f77b4" stroke="#fff" stroke-width="0.4"/>
<circle cx="650.9" cy="550.4" r="1.4" fill="#1f77b4" stroke="#fff" stroke-width="0.4"/>
<circle cx="650.9" cy="562.7" r="1.4" fill="#1f77b4" stroke="#fff" stroke-width="0.4"/>
<circle cx="650.9" cy="571.8" r="1.4" fill="#1f77b4" stroke="#fff" stroke-width="0.4"/>
<circle cx="654.1" cy="568.6" r="1.4" fill="#d62728" stroke="#fff" stroke-width="0.4"/>
<circle cx="654.1" cy="571.7" r="1.4" fill="#d62728" stroke="#fff" stroke-width="0.4"/>
<circle cx="654.1" cy="574.8" r="1.4" fill="#d62728" stroke="#fff" stroke-width="0.4"/>
<circle cx="654.1" cy="578.0" r="1.4" fill="#d62728" stroke="#fff" stroke-width="0.4"/>
<circle cx="654.1" cy="581.1" r="1.4" fill="#d62728" stroke="#fff" stroke-width="0.4"/>
<circle cx="654.1" cy="584.2" r="1.4" fill="#d62728" stroke="#fff" stroke-width="0.4"/>
<circle cx="645.7" cy="574.4" r="1.4" fill="#1f77b4" stroke="#fff" stroke-width="0.4"/>
<circle cx="645.7" cy="577.3" r="1.4" fill="#1f77b4" stroke="#fff" stroke-width="0.4"/>
<circle cx="645.7" cy="580.1" r="1.4" fill="#1f77b4" stroke="#fff" stroke-width="0.4"/>
<circle cx="645.7" cy="583.0" r="1.4" fill="#1f77b4" stroke="#fff" stroke-width="0.4"/>
<circle cx="645.7" cy="585.8" r="1.4" fill="#1f77b4" stroke="#fff" stroke-width="0.4"/>
<circle cx="645.7" cy="588.7" r="1.4" fill="#1f77b4" stroke="#fff" stroke-width="0.4"/>
<circle cx="660.6" cy="577.0" r="1.4" fill="#1f77b4" stroke="#fff" stroke-width="0.4"/>
<circle cx="660.6" cy="580.0" r="1.4" fill="#1f77b4" stroke="#fff" stroke-width="0.4"/>
<circle cx="660.6" cy="582.9" r="1.4" fill="#1f77b4" stroke="#fff" stroke-width="0.4"/>
<path d="M598.30,546.99 L599.28,548.76 L600.27,550.50 L601.25,552.21 L602.24,553.89 L603.22,555.53 L604.20,557.14 L605.19,558.72 L606.17,560.26 L607.16,561.77 L608.14,563.25 L609.13,564.70 L610.11,566.11 L611.09,567.49 L612.08,568.84 L613.06,570.16 L614.05,571.44 L615.03,572.69 L616.01,573.90 L617.00,575.08 L617.98,576.23 L618.97,577.34 L619.95,578.42 L620.94,579.47 L621.92,580.48 L622.90,581.46 L623.89,582.41 L624.87,583.32 L625.86,584.20 L626.84,585.04 L627.82,585.85 L628.81,586.63 L629.79,587.37 L630.78,588.08 L631.76,588.75 L632.75,589.39 L633.73,589.99 L634.71,590.56 L635.70,591.10 L636.68,591.60 L637.67,592.07 L638.65,592.50 L639.63,592.90 L640.62,593.26 L641.60,593.58 L642.59,593.88 L643.57,594.13 L644.56,594.35 L645.54,594.54 L646.52,594.69 L647.51,594.81 L648.49,594.89 L649.48,594.93 L650.46,594.94 L651.44,594.92 L652.43,594.86 L653.41,594.76 L654.40,594.63 L655.38,594.46 L656.37,594.26 L657.35,594.02 L658.33,593.74 L659.32,593.43 L660.30,593.08 L661.29,592.70 L662.27,592.28 L663.25,591.82 L664.24,591.33 L665.22,590.80 L666.21,590.23 L667.19,589.63 L668.18,588.99 L669.16,588.32 L670.14,587.61 L671.13,586.86 L672.11,586.07 L673.10,585.25 L674.08,584.39 L675.06,583.49 L676.05,582.56 L677.03,581.59 L678.02,580.58 L679.00,579.54 L679.99,578.45 L680.97,577.34 L681.95,576.18 L682.94,574.98 L683.92,573.75 L684.91,572.48 L685.89,571.18 L686.88,569.83 L687.86,568.45 L688.84,567.03 L689.83,565.57 L690.81,564.07 L691.80,562.54 L692.78,560.97 L693.76,559.36 L694.75,557.71 L695.73,556.02 L696.72,554.29 L697.70,552.53 L698.68,550.73 L699.67,548.89 L700.65,547.01 L701.64,545.09 L702.62,543.13 L703.61,541.14 L704.59,539.10 L705.57,537.03 L706.56,534.92 L707.54,532.77 L708.53,530.58 L709.51,528.35 L710.50,526.08 L711.48,523.77 L712.46,521.43 L713.45,519.04 L714.43,516.61 L715.42,514.15 L716.40,511.64" fill="none" stroke="#d62728" stroke-width="1.3"/>
<path d="M592.20,564.44 L593.36,564.63 L594.53,564.82 L595.69,565.02 L596.85,565.22 L598.02,565.42 L599.18,565.62 L600.34,565.83 L601.51,566.03 L602.67,566.24 L603.83,566.45 L605.00,566.67 L606.16,566.89 L607.32,567.10 L608.49,567.33 L609.65,567.55 L610.81,567.77 L611.98,568.00 L613.14,568.23 L614.30,568.46 L615.47,568.70 L616.63,568.93 L617.79,569.17 L618.96,569.42 L620.12,569.66 L621.28,569.90 L622.45,570.15 L623.61,570.40 L624.77,570.66 L625.94,570.91 L627.10,571.17 L628.26,571.43 L629.43,571.69 L630.59,571.95 L631.75,572.22 L632.92,572.49 L634.08,572.76 L635.24,573.03 L636.41,573.30 L637.57,573.58 L638.73,573.86 L639.90,574.14 L641.06,574.43 L642.22,574.71 L643.39,575.00 L644.55,575.29 L645.71,575.59 L646.88,575.88 L648.04,576.18 L649.20,576.48 L650.37,576.78 L651.53,577.09 L652.69,577.39 L653.86,577.70 L655.02,578.01 L656.18,578.33 L657.35,578.64 L658.51,578.96 L659.67,579.28 L660.84,579.60 L662.00,579.93 L663.16,580.25 L664.33,580.58 L665.49,580.91 L666.65,581.25 L667.82,581.58 L668.98,581.92 L670.14,582.26 L671.31,582.61 L672.47,582.95 L673.63,583.30 L674.80,583.65 L675.96,584.00 L677.12,584.35 L678.29,584.71 L679.45,585.07 L680.61,585.43 L681.78,585.79 L682.94,586.16 L684.10,586.52 L685.27,586.89 L686.43,587.27 L687.59,587.64 L688.76,588.02 L689.92,588.40 L691.08,588.78 L692.25,589.16 L693.41,589.55 L694.57,589.93 L695.74,590.32 L696.90,590.72 L698.06,591.11 L699.23,591.51 L700.39,591.91 L701.55,592.31 L702.72,592.71 L703.88,593.12 L705.04,593.53 L706.21,593.94 L707.37,594.35 L708.53,594.76 L709.70,595.18 L710.86,595.60 L712.02,596.02 L713.19,596.45 L714.35,596.87 L715.51,597.30 L716.68,597.73 L717.84,598.16 L719.00,598.60 L720.17,599.04 L721.33,599.48 L722.49,599.92 L723.66,600.36 L724.82,600.81 L725.98,601.26 L727.15,601.71 L728.31,602.16 L729.47,602.62 L730.64,603.08 L731.80,603.54" fill="none" stroke="#1f77b4" stroke-width="1.3"/>
<path d="M625.60,602.07 L626.30,600.88 L627.00,599.70 L627.71,598.54 L628.41,597.39 L629.11,596.25 L629.81,595.13 L630.51,594.02 L631.22,592.93 L631.92,591.85 L632.62,590.79 L633.32,589.74 L634.02,588.71 L634.73,587.68 L635.43,586.68 L636.13,585.69 L636.83,584.71 L637.53,583.74 L638.24,582.79 L638.94,581.86 L639.64,580.94 L640.34,580.03 L641.04,579.14 L641.75,578.26 L642.45,577.40 L643.15,576.55 L643.85,575.71 L644.55,574.89 L645.26,574.09 L645.96,573.29 L646.66,572.52 L647.36,571.75 L648.06,571.00 L648.77,570.27 L649.47,569.55 L650.17,568.84 L650.87,568.15 L651.57,567.47 L652.28,566.81 L652.98,566.16 L653.68,565.52 L654.38,564.90 L655.08,564.29 L655.79,563.70 L656.49,563.12 L657.19,562.56 L657.89,562.01 L658.59,561.48 L659.30,560.95 L660.00,560.45 L660.70,559.96 L661.40,559.48 L662.10,559.01 L662.81,558.56 L663.51,558.13 L664.21,557.71 L664.91,557.30 L665.61,556.91 L666.32,556.53 L667.02,556.17 L667.72,555.82 L668.42,555.48 L669.12,555.16 L669.83,554.86 L670.53,554.56 L671.23,554.29 L671.93,554.02 L672.63,553.77 L673.34,553.54 L674.04,553.32 L674.74,553.11 L675.44,552.92 L676.14,552.74 L676.85,552.58 L677.55,552.43 L678.25,552.29 L678.95,552.17 L679.65,552.07 L680.36,551.97 L681.06,551.90 L681.76,551.83 L682.46,551.78 L683.16,551.75 L683.87,551.73 L684.57,551.72 L685.27,551.73 L685.97,551.75 L686.67,551.79 L687.38,551.84 L688.08,551.90 L688.78,551.98 L689.48,552.07 L690.18,552.18 L690.89,552.30 L691.59,552.44 L692.29,552.59 L692.99,552.76 L693.69,552.94 L694.40,553.13 L695.10,553.34 L695.80,553.56 L696.50,553.80 L697.20,554.05 L697.91,554.31 L698.61,554.59 L699.31,554.88 L700.01,555.19 L700.71,555.51 L701.42,555.85 L702.12,556.20 L702.82,556.57 L703.52,556.94 L704.22,557.34 L704.93,557.75 L705.63,558.17 L706.33,558.60 L707.03,559.06 L707.73,559.52 L708.44,560.00 L709.14,560.49 L709.84,561.00 L710.54,561.52 L711.24,562.06 L711.95,562.61 L712.65,563.18 L713.35,563.75 L714.05,564.35 L714.75,564.96 L715.46,565.58 L716.16,566.21 L716.86,566.87 L717.56,567.53 L718.26,568.21 L718.97,568.90 L719.67,569.61 L720.37,570.33 L721.07,571.07 L721.77,571.82 L722.48,572.59 L723.18,573.36 L723.88,574.16 L724.58,574.97 L725.28,575.79 L725.99,576.62 L726.69,577.48 L727.39,578.34 L728.09,579.22 L728.79,580.11 L729.50,581.02 L730.20,581.94 L730.90,582.88 L731.60,583.83 L732.30,584.80 L733.01,585.78 L733.71,586.77 L734.41,587.78 L735.11,588.80 L735.81,589.84 L736.52,590.89 L737.22,591.95 L737.92,593.03 L738.62,594.12 L739.32,595.23 L740.03,596.35 L740.73,597.49 L741.43,598.64 L742.13,599.81 L742.83,600.99 L743.54,602.18 L744.24,603.39 L744.94,604.61 L745.64,605.85 L746.34,607.10 L747.05,608.36 L747.75,609.64 L748.45,610.94 L749.15,612.24 L749.85,613.57 L750.56,614.90 L751.26,616.25 L751.96,617.62 L752.66,619.00 L753.36,620.39 L754.07,621.80 L754.77,623.22 L755.47,624.66 L756.17,626.11 L756.87,627.57 L757.58,629.05 L758.28,630.55 L758.98,632.05 L759.68,633.58 L760.38,635.11 L761.09,636.66 L761.79,638.23 L762.49,639.81 L763.19,641.40 L763.89,643.01 L764.60,644.63 L765.30,646.27 L766.00,647.92" fill="none" stroke="#2ca02c" stroke-width="1.3" stroke-dasharray="14.1 12.36" stroke-dashoffset="6.06"/>
<line x1="587.8" y1="635.2" x2="599.0999999999999" y2="635.2" stroke="#d62728" stroke-width="1.1"/>
<circle cx="593.4" cy="635.2" r="1.1" fill="#d62728"/>
<text x="601.0" y="637.5" font-size="6.5" fill="#2a2a2a" xml:space="preserve">Low (<tspan font-style="italic">R</tspan><tspan font-size="4.2" dy="-2.3">2</tspan><tspan dy="2.3">=0.26, </tspan><tspan font-style="italic">p</tspan> = 2.30e-06)</text>
<line x1="587.8" y1="642.5" x2="599.0999999999999" y2="642.5" stroke="#2ca02c" stroke-width="1.1"/>
<circle cx="593.4" cy="642.5" r="1.1" fill="#2ca02c"/>
<text x="601.0" y="644.8" font-size="6.5" fill="#2a2a2a" xml:space="preserve">Medium (<tspan font-style="italic">R</tspan><tspan font-size="4.2" dy="-2.3">2</tspan><tspan dy="2.3">= 0.36, </tspan><tspan font-style="italic">p</tspan> = 7.77e-01)</text>
<line x1="587.8" y1="650.2" x2="599.0999999999999" y2="650.2" stroke="#1f77b4" stroke-width="1.1"/>
<circle cx="593.4" cy="650.2" r="1.1" fill="#1f77b4"/>
<text x="601.0" y="652.5" font-size="6.5" fill="#2a2a2a" xml:space="preserve">High (<tspan font-style="italic">R</tspan><tspan font-size="4.2" dy="-2.3">2</tspan><tspan dy="2.3"> = 0.05, </tspan><tspan font-style="italic">p</tspan> = 2.76e-10)</text>
<line x1="582.2" y1="644.57" x2="584.2" y2="644.57" stroke="#222" stroke-width="0.8"/>
<text x="580.30" y="646.57" font-size="6" text-anchor="end" fill="#2e2e2e">1</text>
<line x1="582.2" y1="623.84" x2="584.2" y2="623.84" stroke="#222" stroke-width="0.8"/>
<text x="580.30" y="625.84" font-size="6" text-anchor="end" fill="#2e2e2e">2</text>
<line x1="582.2" y1="603.11" x2="584.2" y2="603.11" stroke="#222" stroke-width="0.8"/>
<text x="580.30" y="605.11" font-size="6" text-anchor="end" fill="#2e2e2e">3</text>
<line x1="582.2" y1="582.38" x2="584.2" y2="582.38" stroke="#222" stroke-width="0.8"/>
<text x="580.30" y="584.38" font-size="6" text-anchor="end" fill="#2e2e2e">4</text>
<line x1="582.2" y1="561.65" x2="584.2" y2="561.65" stroke="#222" stroke-width="0.8"/>
<text x="580.30" y="563.65" font-size="6" text-anchor="end" fill="#2e2e2e">5</text>
<line x1="582.2" y1="540.92" x2="584.2" y2="540.92" stroke="#222" stroke-width="0.8"/>
<text x="580.30" y="542.92" font-size="6" text-anchor="end" fill="#2e2e2e">6</text>
<line x1="582.2" y1="520.19" x2="584.2" y2="520.19" stroke="#222" stroke-width="0.8"/>
<text x="580.30" y="522.19" font-size="6" text-anchor="end" fill="#2e2e2e">7</text>
<line x1="582.2" y1="499.46" x2="584.2" y2="499.46" stroke="#222" stroke-width="0.8"/>
<text x="580.30" y="501.46" font-size="6" text-anchor="end" fill="#2e2e2e">8</text>
<line x1="582.2" y1="478.73" x2="584.2" y2="478.73" stroke="#222" stroke-width="0.8"/>
<text x="580.30" y="480.73" font-size="6" text-anchor="end" fill="#2e2e2e">9</text>
<line x1="617.28" y1="656.3" x2="617.28" y2="658.3" stroke="#222" stroke-width="0.8"/>
<text x="617.28" y="664.00" font-size="6" text-anchor="middle" fill="#2e2e2e">0.2</text>
<line x1="654.46" y1="656.3" x2="654.46" y2="658.3" stroke="#222" stroke-width="0.8"/>
<text x="654.46" y="664.00" font-size="6" text-anchor="middle" fill="#2e2e2e">0.4</text>
<line x1="691.64" y1="656.3" x2="691.64" y2="658.3" stroke="#222" stroke-width="0.8"/>
<text x="691.64" y="664.00" font-size="6" text-anchor="middle" fill="#2e2e2e">0.6</text>
<line x1="728.82" y1="656.3" x2="728.82" y2="658.3" stroke="#222" stroke-width="0.8"/>
<text x="728.82" y="664.00" font-size="6" text-anchor="middle" fill="#2e2e2e">0.8</text>
<line x1="766.00" y1="656.3" x2="766.00" y2="658.3" stroke="#222" stroke-width="0.8"/>
<text x="766.00" y="664.00" font-size="6" text-anchor="middle" fill="#2e2e2e">1.0</text>
<rect x="584.2" y="470.6" width="189.6" height="185.7" fill="none" stroke="#2b2b2b" stroke-width="1.2"/>
</svg>
</body></html>
